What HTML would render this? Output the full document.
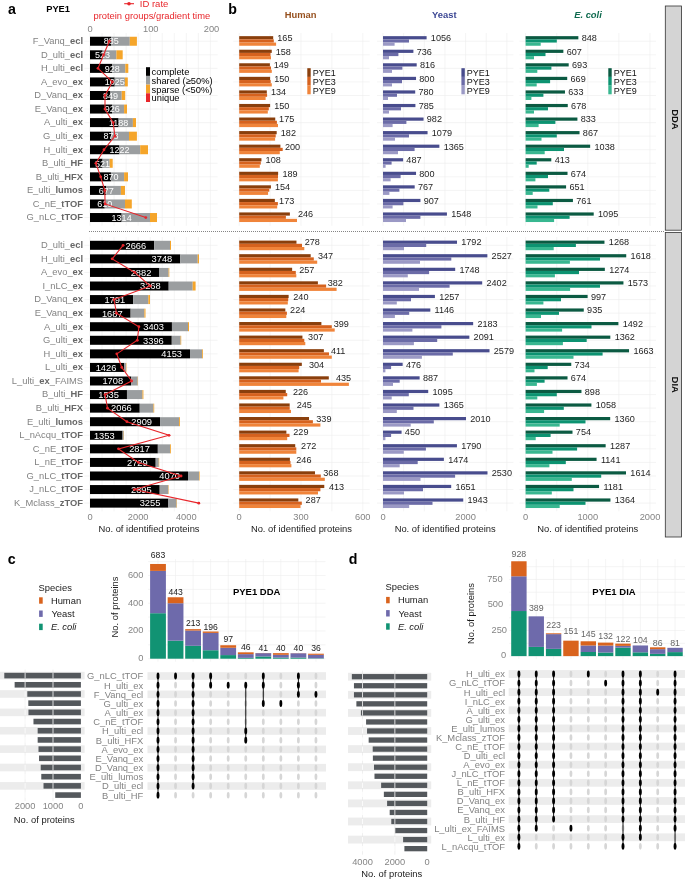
<!DOCTYPE html>
<html><head><meta charset="utf-8"><title>Figure</title>
<style>html,body{margin:0;padding:0;background:#fff;}svg{display:block;will-change:transform;}
text{font-family:"Liberation Sans", sans-serif;}</style></head>
<body>
<svg width="685" height="880" viewBox="0 0 685 880" font-family='"Liberation Sans", sans-serif'>
<rect width="685" height="880" fill="#fff"/>
<line x1="90.00" y1="33.00" x2="90.00" y2="225.80" stroke="#ececec" stroke-width="0.6" />
<line x1="102.04" y1="33.00" x2="102.04" y2="225.80" stroke="#ececec" stroke-width="0.6" />
<line x1="114.08" y1="33.00" x2="114.08" y2="225.80" stroke="#ececec" stroke-width="0.6" />
<line x1="126.12" y1="33.00" x2="126.12" y2="225.80" stroke="#ececec" stroke-width="0.6" />
<line x1="138.16" y1="33.00" x2="138.16" y2="225.80" stroke="#ececec" stroke-width="0.6" />
<line x1="150.20" y1="33.00" x2="150.20" y2="225.80" stroke="#ececec" stroke-width="0.6" />
<line x1="162.24" y1="33.00" x2="162.24" y2="225.80" stroke="#ececec" stroke-width="0.6" />
<line x1="174.28" y1="33.00" x2="174.28" y2="225.80" stroke="#ececec" stroke-width="0.6" />
<line x1="186.32" y1="33.00" x2="186.32" y2="225.80" stroke="#ececec" stroke-width="0.6" />
<line x1="198.36" y1="33.00" x2="198.36" y2="225.80" stroke="#ececec" stroke-width="0.6" />
<line x1="210.40" y1="33.00" x2="210.40" y2="225.80" stroke="#ececec" stroke-width="0.6" />
<line x1="84.40" y1="41.25" x2="217.60" y2="41.25" stroke="#ececec" stroke-width="0.6" />
<line x1="84.40" y1="54.81" x2="217.60" y2="54.81" stroke="#ececec" stroke-width="0.6" />
<line x1="84.40" y1="68.37" x2="217.60" y2="68.37" stroke="#ececec" stroke-width="0.6" />
<line x1="84.40" y1="81.93" x2="217.60" y2="81.93" stroke="#ececec" stroke-width="0.6" />
<line x1="84.40" y1="95.49" x2="217.60" y2="95.49" stroke="#ececec" stroke-width="0.6" />
<line x1="84.40" y1="109.05" x2="217.60" y2="109.05" stroke="#ececec" stroke-width="0.6" />
<line x1="84.40" y1="122.61" x2="217.60" y2="122.61" stroke="#ececec" stroke-width="0.6" />
<line x1="84.40" y1="136.17" x2="217.60" y2="136.17" stroke="#ececec" stroke-width="0.6" />
<line x1="84.40" y1="149.73" x2="217.60" y2="149.73" stroke="#ececec" stroke-width="0.6" />
<line x1="84.40" y1="163.29" x2="217.60" y2="163.29" stroke="#ececec" stroke-width="0.6" />
<line x1="84.40" y1="176.85" x2="217.60" y2="176.85" stroke="#ececec" stroke-width="0.6" />
<line x1="84.40" y1="190.41" x2="217.60" y2="190.41" stroke="#ececec" stroke-width="0.6" />
<line x1="84.40" y1="203.97" x2="217.60" y2="203.97" stroke="#ececec" stroke-width="0.6" />
<line x1="84.40" y1="217.53" x2="217.60" y2="217.53" stroke="#ececec" stroke-width="0.6" />
<line x1="90.00" y1="237.00" x2="90.00" y2="511.30" stroke="#ececec" stroke-width="0.6" />
<line x1="102.04" y1="237.00" x2="102.04" y2="511.30" stroke="#ececec" stroke-width="0.6" />
<line x1="114.08" y1="237.00" x2="114.08" y2="511.30" stroke="#ececec" stroke-width="0.6" />
<line x1="126.12" y1="237.00" x2="126.12" y2="511.30" stroke="#ececec" stroke-width="0.6" />
<line x1="138.16" y1="237.00" x2="138.16" y2="511.30" stroke="#ececec" stroke-width="0.6" />
<line x1="150.20" y1="237.00" x2="150.20" y2="511.30" stroke="#ececec" stroke-width="0.6" />
<line x1="162.24" y1="237.00" x2="162.24" y2="511.30" stroke="#ececec" stroke-width="0.6" />
<line x1="174.28" y1="237.00" x2="174.28" y2="511.30" stroke="#ececec" stroke-width="0.6" />
<line x1="186.32" y1="237.00" x2="186.32" y2="511.30" stroke="#ececec" stroke-width="0.6" />
<line x1="198.36" y1="237.00" x2="198.36" y2="511.30" stroke="#ececec" stroke-width="0.6" />
<line x1="210.40" y1="237.00" x2="210.40" y2="511.30" stroke="#ececec" stroke-width="0.6" />
<line x1="84.40" y1="245.30" x2="217.60" y2="245.30" stroke="#ececec" stroke-width="0.6" />
<line x1="84.40" y1="258.87" x2="217.60" y2="258.87" stroke="#ececec" stroke-width="0.6" />
<line x1="84.40" y1="272.44" x2="217.60" y2="272.44" stroke="#ececec" stroke-width="0.6" />
<line x1="84.40" y1="286.01" x2="217.60" y2="286.01" stroke="#ececec" stroke-width="0.6" />
<line x1="84.40" y1="299.58" x2="217.60" y2="299.58" stroke="#ececec" stroke-width="0.6" />
<line x1="84.40" y1="313.15" x2="217.60" y2="313.15" stroke="#ececec" stroke-width="0.6" />
<line x1="84.40" y1="326.72" x2="217.60" y2="326.72" stroke="#ececec" stroke-width="0.6" />
<line x1="84.40" y1="340.29" x2="217.60" y2="340.29" stroke="#ececec" stroke-width="0.6" />
<line x1="84.40" y1="353.86" x2="217.60" y2="353.86" stroke="#ececec" stroke-width="0.6" />
<line x1="84.40" y1="367.43" x2="217.60" y2="367.43" stroke="#ececec" stroke-width="0.6" />
<line x1="84.40" y1="381.00" x2="217.60" y2="381.00" stroke="#ececec" stroke-width="0.6" />
<line x1="84.40" y1="394.57" x2="217.60" y2="394.57" stroke="#ececec" stroke-width="0.6" />
<line x1="84.40" y1="408.14" x2="217.60" y2="408.14" stroke="#ececec" stroke-width="0.6" />
<line x1="84.40" y1="421.71" x2="217.60" y2="421.71" stroke="#ececec" stroke-width="0.6" />
<line x1="84.40" y1="435.28" x2="217.60" y2="435.28" stroke="#ececec" stroke-width="0.6" />
<line x1="84.40" y1="448.85" x2="217.60" y2="448.85" stroke="#ececec" stroke-width="0.6" />
<line x1="84.40" y1="462.42" x2="217.60" y2="462.42" stroke="#ececec" stroke-width="0.6" />
<line x1="84.40" y1="475.99" x2="217.60" y2="475.99" stroke="#ececec" stroke-width="0.6" />
<line x1="84.40" y1="489.56" x2="217.60" y2="489.56" stroke="#ececec" stroke-width="0.6" />
<line x1="84.40" y1="503.13" x2="217.60" y2="503.13" stroke="#ececec" stroke-width="0.6" />
<rect x="90.00" y="36.75" width="21.31" height="9.00" fill="#000" />
<rect x="111.31" y="36.75" width="18.49" height="9.00" fill="#9b9ea0" />
<rect x="129.80" y="36.75" width="7.10" height="9.00" fill="#f5a52a" />
<text x="83" y="44.05" font-size="9.35" fill="#838383" text-anchor="end">F_Vanq_<tspan font-weight="bold" fill="#676767">ecl</tspan></text>
<text x="111.31" y="44.49" font-size="9" fill="#fff" text-anchor="middle" >885</text>
<rect x="90.00" y="50.31" width="12.59" height="9.00" fill="#000" />
<rect x="102.59" y="50.31" width="13.81" height="9.00" fill="#9b9ea0" />
<rect x="116.40" y="50.31" width="6.30" height="9.00" fill="#f5a52a" />
<text x="83" y="57.61" font-size="9.35" fill="#838383" text-anchor="end">D_ulti_<tspan font-weight="bold" fill="#676767">ecl</tspan></text>
<text x="102.59" y="58.05" font-size="9" fill="#fff" text-anchor="middle" >523</text>
<rect x="90.00" y="63.87" width="22.35" height="9.00" fill="#000" />
<rect x="112.35" y="63.87" width="12.95" height="9.00" fill="#9b9ea0" />
<rect x="125.30" y="63.87" width="3.00" height="9.00" fill="#f5a52a" />
<text x="83" y="71.17" font-size="9.35" fill="#838383" text-anchor="end">H_ulti_<tspan font-weight="bold" fill="#676767">ecl</tspan></text>
<text x="112.35" y="71.61" font-size="9" fill="#fff" text-anchor="middle" >928</text>
<rect x="90.00" y="77.43" width="24.68" height="9.00" fill="#000" />
<rect x="114.68" y="77.43" width="10.22" height="9.00" fill="#9b9ea0" />
<rect x="124.90" y="77.43" width="2.90" height="9.00" fill="#f5a52a" />
<text x="83" y="84.73" font-size="9.35" fill="#838383" text-anchor="end">A_evo_<tspan font-weight="bold" fill="#676767">ex</tspan></text>
<text x="114.68" y="85.17" font-size="9" fill="#fff" text-anchor="middle" >1025</text>
<rect x="90.00" y="90.99" width="20.44" height="9.00" fill="#000" />
<rect x="110.44" y="90.99" width="11.31" height="9.00" fill="#9b9ea0" />
<rect x="121.75" y="90.99" width="3.45" height="9.00" fill="#f5a52a" />
<text x="83" y="98.29" font-size="9.35" fill="#838383" text-anchor="end">D_Vanq_<tspan font-weight="bold" fill="#676767">ex</tspan></text>
<text x="110.44" y="98.73" font-size="9" fill="#fff" text-anchor="middle" >849</text>
<rect x="90.00" y="104.55" width="22.30" height="9.00" fill="#000" />
<rect x="112.30" y="104.55" width="11.80" height="9.00" fill="#9b9ea0" />
<rect x="124.10" y="104.55" width="2.90" height="9.00" fill="#f5a52a" />
<text x="83" y="111.85" font-size="9.35" fill="#838383" text-anchor="end">E_Vanq_<tspan font-weight="bold" fill="#676767">ex</tspan></text>
<text x="112.30" y="112.29" font-size="9" fill="#fff" text-anchor="middle" >926</text>
<rect x="90.00" y="118.11" width="28.61" height="9.00" fill="#000" />
<rect x="118.61" y="118.11" width="14.29" height="9.00" fill="#9b9ea0" />
<rect x="132.90" y="118.11" width="3.10" height="9.00" fill="#f5a52a" />
<text x="83" y="125.41" font-size="9.35" fill="#838383" text-anchor="end">A_ulti_<tspan font-weight="bold" fill="#676767">ex</tspan></text>
<text x="118.61" y="125.85" font-size="9" fill="#fff" text-anchor="middle" >1188</text>
<rect x="90.00" y="131.67" width="21.14" height="9.00" fill="#000" />
<rect x="111.14" y="131.67" width="17.86" height="9.00" fill="#9b9ea0" />
<rect x="129.00" y="131.67" width="7.90" height="9.00" fill="#f5a52a" />
<text x="83" y="138.97" font-size="9.35" fill="#838383" text-anchor="end">G_ulti_<tspan font-weight="bold" fill="#676767">ex</tspan></text>
<text x="111.14" y="139.41" font-size="9" fill="#fff" text-anchor="middle" >878</text>
<rect x="90.00" y="145.23" width="29.43" height="9.00" fill="#000" />
<rect x="119.43" y="145.23" width="20.77" height="9.00" fill="#9b9ea0" />
<rect x="140.20" y="145.23" width="7.80" height="9.00" fill="#f5a52a" />
<text x="83" y="152.53" font-size="9.35" fill="#838383" text-anchor="end">H_ulti_<tspan font-weight="bold" fill="#676767">ex</tspan></text>
<text x="119.43" y="152.97" font-size="9" fill="#fff" text-anchor="middle" >1222</text>
<rect x="90.00" y="158.79" width="12.55" height="9.00" fill="#000" />
<rect x="102.55" y="158.79" width="7.15" height="9.00" fill="#9b9ea0" />
<rect x="109.70" y="158.79" width="3.00" height="9.00" fill="#f5a52a" />
<text x="83" y="166.09" font-size="9.35" fill="#838383" text-anchor="end">B_ulti_<tspan font-weight="bold" fill="#676767">HF</tspan></text>
<text x="102.55" y="166.53" font-size="9" fill="#fff" text-anchor="middle" >521</text>
<rect x="90.00" y="172.35" width="20.95" height="9.00" fill="#000" />
<rect x="110.95" y="172.35" width="13.15" height="9.00" fill="#9b9ea0" />
<rect x="124.10" y="172.35" width="3.90" height="9.00" fill="#f5a52a" />
<text x="83" y="179.65" font-size="9.35" fill="#838383" text-anchor="end">B_ulti_<tspan font-weight="bold" fill="#676767">HFX</tspan></text>
<text x="110.95" y="180.09" font-size="9" fill="#fff" text-anchor="middle" >870</text>
<rect x="90.00" y="185.91" width="16.30" height="9.00" fill="#000" />
<rect x="106.30" y="185.91" width="14.60" height="9.00" fill="#9b9ea0" />
<rect x="120.90" y="185.91" width="4.10" height="9.00" fill="#f5a52a" />
<text x="83" y="193.21" font-size="9.35" fill="#838383" text-anchor="end">E_ulti_<tspan font-weight="bold" fill="#676767">lumos</tspan></text>
<text x="106.30" y="193.65" font-size="9" fill="#fff" text-anchor="middle" >677</text>
<rect x="90.00" y="199.47" width="14.69" height="9.00" fill="#000" />
<rect x="104.69" y="199.47" width="20.31" height="9.00" fill="#9b9ea0" />
<rect x="125.00" y="199.47" width="6.80" height="9.00" fill="#f5a52a" />
<text x="83" y="206.77" font-size="9.35" fill="#838383" text-anchor="end">C_nE_<tspan font-weight="bold" fill="#676767">tTOF</tspan></text>
<text x="104.69" y="207.21" font-size="9" fill="#fff" text-anchor="middle" >610</text>
<rect x="90.00" y="213.03" width="31.64" height="9.00" fill="#000" />
<rect x="121.64" y="213.03" width="28.36" height="9.00" fill="#9b9ea0" />
<rect x="150.00" y="213.03" width="7.00" height="9.00" fill="#f5a52a" />
<text x="83" y="220.33" font-size="9.35" fill="#838383" text-anchor="end">G_nLC_<tspan font-weight="bold" fill="#676767">tTOF</tspan></text>
<text x="121.64" y="220.77" font-size="9" fill="#fff" text-anchor="middle" >1314</text>
<polyline points="109.30,41.25 103.60,54.81 98.00,68.37 112.40,81.93 105.00,95.49 105.00,109.05 113.20,122.61 114.90,136.17 104.00,149.73 95.90,163.29 100.70,176.85 104.80,190.41 105.10,203.97 145.80,217.53" fill="none" stroke="#e8262b" stroke-width="1.1"/>
<circle cx="109.30" cy="41.25" r="1.4" fill="#e8262b"/>
<circle cx="103.60" cy="54.81" r="1.4" fill="#e8262b"/>
<circle cx="98.00" cy="68.37" r="1.4" fill="#e8262b"/>
<circle cx="112.40" cy="81.93" r="1.4" fill="#e8262b"/>
<circle cx="105.00" cy="95.49" r="1.4" fill="#e8262b"/>
<circle cx="105.00" cy="109.05" r="1.4" fill="#e8262b"/>
<circle cx="113.20" cy="122.61" r="1.4" fill="#e8262b"/>
<circle cx="114.90" cy="136.17" r="1.4" fill="#e8262b"/>
<circle cx="104.00" cy="149.73" r="1.4" fill="#e8262b"/>
<circle cx="95.90" cy="163.29" r="1.4" fill="#e8262b"/>
<circle cx="100.70" cy="176.85" r="1.4" fill="#e8262b"/>
<circle cx="104.80" cy="190.41" r="1.4" fill="#e8262b"/>
<circle cx="105.10" cy="203.97" r="1.4" fill="#e8262b"/>
<circle cx="145.80" cy="217.53" r="1.4" fill="#e8262b"/>
<rect x="90.00" y="240.80" width="64.20" height="9.00" fill="#000" />
<rect x="154.20" y="240.80" width="15.80" height="9.00" fill="#9b9ea0" />
<rect x="170.00" y="240.80" width="1.00" height="9.00" fill="#f5a52a" />
<text x="83" y="248.10" font-size="9.35" fill="#838383" text-anchor="end">D_ulti_<tspan font-weight="bold" fill="#676767">ecl</tspan></text>
<text x="146.20" y="248.65" font-size="9.3" fill="#fff" text-anchor="end" >2666</text>
<rect x="90.00" y="254.37" width="90.25" height="9.00" fill="#000" />
<rect x="180.25" y="254.37" width="17.45" height="9.00" fill="#9b9ea0" />
<rect x="197.70" y="254.37" width="1.30" height="9.00" fill="#f5a52a" />
<text x="83" y="261.67" font-size="9.35" fill="#838383" text-anchor="end">H_ulti_<tspan font-weight="bold" fill="#676767">ecl</tspan></text>
<text x="172.25" y="262.22" font-size="9.3" fill="#fff" text-anchor="end" >3748</text>
<rect x="90.00" y="267.94" width="69.40" height="9.00" fill="#000" />
<rect x="159.40" y="267.94" width="9.20" height="9.00" fill="#9b9ea0" />
<rect x="168.60" y="267.94" width="0.70" height="9.00" fill="#f5a52a" />
<text x="83" y="275.24" font-size="9.35" fill="#838383" text-anchor="end">A_evo_<tspan font-weight="bold" fill="#676767">ex</tspan></text>
<text x="151.40" y="275.79" font-size="9.3" fill="#fff" text-anchor="end" >2882</text>
<rect x="90.00" y="281.51" width="78.69" height="9.00" fill="#000" />
<rect x="168.69" y="281.51" width="24.01" height="9.00" fill="#9b9ea0" />
<rect x="192.70" y="281.51" width="2.90" height="9.00" fill="#f5a52a" />
<text x="83" y="288.81" font-size="9.35" fill="#838383" text-anchor="end">I_nLC_<tspan font-weight="bold" fill="#676767">ex</tspan></text>
<text x="160.69" y="289.36" font-size="9.3" fill="#fff" text-anchor="end" >3268</text>
<rect x="90.00" y="295.08" width="43.13" height="9.00" fill="#000" />
<rect x="133.13" y="295.08" width="15.17" height="9.00" fill="#9b9ea0" />
<rect x="148.30" y="295.08" width="1.70" height="9.00" fill="#f5a52a" />
<text x="83" y="302.38" font-size="9.35" fill="#838383" text-anchor="end">D_Vanq_<tspan font-weight="bold" fill="#676767">ex</tspan></text>
<text x="125.13" y="302.93" font-size="9.3" fill="#fff" text-anchor="end" >1791</text>
<rect x="90.00" y="308.65" width="40.62" height="9.00" fill="#000" />
<rect x="130.62" y="308.65" width="13.78" height="9.00" fill="#9b9ea0" />
<rect x="144.40" y="308.65" width="1.10" height="9.00" fill="#f5a52a" />
<text x="83" y="315.95" font-size="9.35" fill="#838383" text-anchor="end">E_Vanq_<tspan font-weight="bold" fill="#676767">ex</tspan></text>
<text x="122.62" y="316.50" font-size="9.3" fill="#fff" text-anchor="end" >1687</text>
<rect x="90.00" y="322.22" width="81.94" height="9.00" fill="#000" />
<rect x="171.94" y="322.22" width="16.06" height="9.00" fill="#9b9ea0" />
<rect x="188.00" y="322.22" width="1.00" height="9.00" fill="#f5a52a" />
<text x="83" y="329.52" font-size="9.35" fill="#838383" text-anchor="end">A_ulti_<tspan font-weight="bold" fill="#676767">ex</tspan></text>
<text x="163.94" y="330.07" font-size="9.3" fill="#fff" text-anchor="end" >3403</text>
<rect x="90.00" y="335.79" width="81.78" height="9.00" fill="#000" />
<rect x="171.78" y="335.79" width="8.82" height="9.00" fill="#9b9ea0" />
<rect x="180.60" y="335.79" width="0.60" height="9.00" fill="#f5a52a" />
<text x="83" y="343.09" font-size="9.35" fill="#838383" text-anchor="end">G_ulti_<tspan font-weight="bold" fill="#676767">ex</tspan></text>
<text x="163.78" y="343.64" font-size="9.3" fill="#fff" text-anchor="end" >3396</text>
<rect x="90.00" y="349.36" width="100.00" height="9.00" fill="#000" />
<rect x="190.00" y="349.36" width="12.20" height="9.00" fill="#9b9ea0" />
<rect x="202.20" y="349.36" width="0.80" height="9.00" fill="#f5a52a" />
<text x="83" y="356.66" font-size="9.35" fill="#838383" text-anchor="end">H_ulti_<tspan font-weight="bold" fill="#676767">ex</tspan></text>
<text x="182.00" y="357.21" font-size="9.3" fill="#fff" text-anchor="end" >4153</text>
<rect x="90.00" y="362.93" width="34.34" height="9.00" fill="#000" />
<rect x="124.34" y="362.93" width="1.66" height="9.00" fill="#9b9ea0" />
<rect x="126.00" y="362.93" width="0.40" height="9.00" fill="#f5a52a" />
<text x="83" y="370.23" font-size="9.35" fill="#838383" text-anchor="end">L_ulti_<tspan font-weight="bold" fill="#676767">ex</tspan></text>
<text x="116.34" y="370.78" font-size="9.3" fill="#fff" text-anchor="end" >1426</text>
<rect x="90.00" y="376.50" width="41.13" height="9.00" fill="#000" />
<rect x="131.13" y="376.50" width="6.57" height="9.00" fill="#9b9ea0" />
<rect x="137.70" y="376.50" width="0.30" height="9.00" fill="#f5a52a" />
<text x="83" y="383.80" font-size="9.35" fill="#838383" text-anchor="end">L_ulti_<tspan font-weight="bold" fill="#676767">ex</tspan>_FAIMS</text>
<text x="123.13" y="384.35" font-size="9.3" fill="#fff" text-anchor="end" >1708</text>
<rect x="90.00" y="390.07" width="36.96" height="9.00" fill="#000" />
<rect x="126.96" y="390.07" width="15.54" height="9.00" fill="#9b9ea0" />
<rect x="142.50" y="390.07" width="0.90" height="9.00" fill="#f5a52a" />
<text x="83" y="397.37" font-size="9.35" fill="#838383" text-anchor="end">B_ulti_<tspan font-weight="bold" fill="#676767">HF</tspan></text>
<text x="118.96" y="397.92" font-size="9.3" fill="#fff" text-anchor="end" >1535</text>
<rect x="90.00" y="403.64" width="49.75" height="9.00" fill="#000" />
<rect x="139.75" y="403.64" width="13.75" height="9.00" fill="#9b9ea0" />
<rect x="153.50" y="403.64" width="0.70" height="9.00" fill="#f5a52a" />
<text x="83" y="410.94" font-size="9.35" fill="#838383" text-anchor="end">B_ulti_<tspan font-weight="bold" fill="#676767">HFX</tspan></text>
<text x="131.75" y="411.49" font-size="9.3" fill="#fff" text-anchor="end" >2066</text>
<rect x="90.00" y="417.21" width="70.05" height="9.00" fill="#000" />
<rect x="160.05" y="417.21" width="19.05" height="9.00" fill="#9b9ea0" />
<rect x="179.10" y="417.21" width="0.90" height="9.00" fill="#f5a52a" />
<text x="83" y="424.51" font-size="9.35" fill="#838383" text-anchor="end">E_ulti_<tspan font-weight="bold" fill="#676767">lumos</tspan></text>
<text x="152.05" y="425.06" font-size="9.3" fill="#fff" text-anchor="end" >2909</text>
<rect x="90.00" y="430.78" width="32.58" height="9.00" fill="#000" />
<rect x="122.58" y="430.78" width="1.12" height="9.00" fill="#9b9ea0" />
<rect x="123.70" y="430.78" width="0.30" height="9.00" fill="#f5a52a" />
<text x="83" y="438.08" font-size="9.35" fill="#838383" text-anchor="end">L_nAcqu_<tspan font-weight="bold" fill="#676767">tTOF</tspan></text>
<text x="114.58" y="438.63" font-size="9.3" fill="#fff" text-anchor="end" >1353</text>
<rect x="90.00" y="444.35" width="67.83" height="9.00" fill="#000" />
<rect x="157.83" y="444.35" width="12.37" height="9.00" fill="#9b9ea0" />
<rect x="170.20" y="444.35" width="0.80" height="9.00" fill="#f5a52a" />
<text x="83" y="451.65" font-size="9.35" fill="#838383" text-anchor="end">C_nE_<tspan font-weight="bold" fill="#676767">tTOF</tspan></text>
<text x="149.83" y="452.20" font-size="9.3" fill="#fff" text-anchor="end" >2817</text>
<rect x="90.00" y="457.92" width="65.71" height="9.00" fill="#000" />
<rect x="155.71" y="457.92" width="3.09" height="9.00" fill="#9b9ea0" />
<rect x="158.80" y="457.92" width="0.40" height="9.00" fill="#f5a52a" />
<text x="83" y="465.22" font-size="9.35" fill="#838383" text-anchor="end">L_nE_<tspan font-weight="bold" fill="#676767">tTOF</tspan></text>
<text x="147.71" y="465.77" font-size="9.3" fill="#fff" text-anchor="end" >2729</text>
<rect x="90.00" y="471.49" width="98.01" height="9.00" fill="#000" />
<rect x="188.01" y="471.49" width="10.99" height="9.00" fill="#9b9ea0" />
<rect x="199.00" y="471.49" width="0.60" height="9.00" fill="#f5a52a" />
<text x="83" y="478.79" font-size="9.35" fill="#838383" text-anchor="end">G_nLC_<tspan font-weight="bold" fill="#676767">tTOF</tspan></text>
<text x="180.01" y="479.34" font-size="9.3" fill="#fff" text-anchor="end" >4070</text>
<rect x="90.00" y="485.06" width="69.71" height="9.00" fill="#000" />
<rect x="159.71" y="485.06" width="8.59" height="9.00" fill="#9b9ea0" />
<rect x="168.30" y="485.06" width="0.40" height="9.00" fill="#f5a52a" />
<text x="83" y="492.36" font-size="9.35" fill="#838383" text-anchor="end">J_nLC_<tspan font-weight="bold" fill="#676767">tTOF</tspan></text>
<text x="151.71" y="492.91" font-size="9.3" fill="#fff" text-anchor="end" >2895</text>
<rect x="90.00" y="498.63" width="78.38" height="9.00" fill="#000" />
<rect x="168.38" y="498.63" width="8.22" height="9.00" fill="#9b9ea0" />
<rect x="176.60" y="498.63" width="0.40" height="9.00" fill="#f5a52a" />
<text x="83" y="505.93" font-size="9.35" fill="#838383" text-anchor="end">K_Mclass_<tspan font-weight="bold" fill="#676767">zTOF</tspan></text>
<text x="160.38" y="506.48" font-size="9.3" fill="#fff" text-anchor="end" >3255</text>
<polyline points="123.10,245.30 112.20,258.87 134.80,272.44 150.20,286.01 114.00,299.58 116.50,313.15 138.90,326.72 137.30,340.29 116.80,353.86 121.80,367.43 131.60,381.00 105.10,394.57 107.50,408.14 126.90,421.71 169.00,435.28 118.50,448.85 138.40,462.42 181.00,475.99 134.30,489.56 198.80,503.13" fill="none" stroke="#e8262b" stroke-width="1.1"/>
<circle cx="123.10" cy="245.30" r="1.4" fill="#e8262b"/>
<circle cx="112.20" cy="258.87" r="1.4" fill="#e8262b"/>
<circle cx="134.80" cy="272.44" r="1.4" fill="#e8262b"/>
<circle cx="150.20" cy="286.01" r="1.4" fill="#e8262b"/>
<circle cx="114.00" cy="299.58" r="1.4" fill="#e8262b"/>
<circle cx="116.50" cy="313.15" r="1.4" fill="#e8262b"/>
<circle cx="138.90" cy="326.72" r="1.4" fill="#e8262b"/>
<circle cx="137.30" cy="340.29" r="1.4" fill="#e8262b"/>
<circle cx="116.80" cy="353.86" r="1.4" fill="#e8262b"/>
<circle cx="121.80" cy="367.43" r="1.4" fill="#e8262b"/>
<circle cx="131.60" cy="381.00" r="1.4" fill="#e8262b"/>
<circle cx="105.10" cy="394.57" r="1.4" fill="#e8262b"/>
<circle cx="107.50" cy="408.14" r="1.4" fill="#e8262b"/>
<circle cx="126.90" cy="421.71" r="1.4" fill="#e8262b"/>
<circle cx="169.00" cy="435.28" r="1.4" fill="#e8262b"/>
<circle cx="118.50" cy="448.85" r="1.4" fill="#e8262b"/>
<circle cx="138.40" cy="462.42" r="1.4" fill="#e8262b"/>
<circle cx="181.00" cy="475.99" r="1.4" fill="#e8262b"/>
<circle cx="134.30" cy="489.56" r="1.4" fill="#e8262b"/>
<circle cx="198.80" cy="503.13" r="1.4" fill="#e8262b"/>
<rect x="146.00" y="67.20" width="4.00" height="8.70" fill="#000" />
<rect x="146.00" y="75.90" width="4.00" height="8.70" fill="#9b9ea0" />
<rect x="146.00" y="84.60" width="4.00" height="8.70" fill="#f5a52a" />
<rect x="146.00" y="93.30" width="4.00" height="8.70" fill="#e8262b" />
<text x="151.60" y="74.95" font-size="9.3" fill="#000" >complete</text>
<text x="151.60" y="83.75" font-size="9.3" fill="#000" >shared (≥50%)</text>
<text x="151.60" y="92.55" font-size="9.3" fill="#000" >sparse (&lt;50%)</text>
<text x="151.60" y="101.35" font-size="9.3" fill="#000" >unique</text>
<text x="90.10" y="31.95" font-size="9.3" fill="#858585" text-anchor="middle" >0</text>
<text x="150.80" y="31.95" font-size="9.3" fill="#858585" text-anchor="middle" >100</text>
<text x="211.50" y="31.95" font-size="9.3" fill="#858585" text-anchor="middle" >200</text>
<line x1="124.20" y1="3.70" x2="134.00" y2="3.70" stroke="#e8262b" stroke-width="1.1" />
<circle cx="129" cy="3.7" r="1.8" fill="#e8262b"/>
<text x="139.80" y="7.22" font-size="9.5" fill="#e8262b" >ID rate</text>
<text x="151.80" y="18.78" font-size="9.4" fill="#e8262b" text-anchor="middle" >protein groups/gradient time</text>
<text x="90.00" y="519.55" font-size="9.3" fill="#858585" text-anchor="middle" >0</text>
<text x="138.20" y="519.55" font-size="9.3" fill="#858585" text-anchor="middle" >2000</text>
<text x="186.30" y="519.55" font-size="9.3" fill="#858585" text-anchor="middle" >4000</text>
<text x="149.00" y="531.88" font-size="9.4" fill="#1a1a1a" text-anchor="middle" >No. of identified proteins</text>
<text x="8.00" y="14.11" font-size="14.2" fill="#000" font-weight="bold" >a</text>
<text x="46.20" y="11.75" font-size="9.3" fill="#000" font-weight="bold" >PYE1</text>
<line x1="239.20" y1="33.00" x2="239.20" y2="225.80" stroke="#ececec" stroke-width="0.6" />
<line x1="270.10" y1="33.00" x2="270.10" y2="225.80" stroke="#ececec" stroke-width="0.6" />
<line x1="301.00" y1="33.00" x2="301.00" y2="225.80" stroke="#ececec" stroke-width="0.6" />
<line x1="331.90" y1="33.00" x2="331.90" y2="225.80" stroke="#ececec" stroke-width="0.6" />
<line x1="362.80" y1="33.00" x2="362.80" y2="225.80" stroke="#ececec" stroke-width="0.6" />
<line x1="233.30" y1="41.25" x2="369.60" y2="41.25" stroke="#ececec" stroke-width="0.6" />
<line x1="233.30" y1="54.81" x2="369.60" y2="54.81" stroke="#ececec" stroke-width="0.6" />
<line x1="233.30" y1="68.37" x2="369.60" y2="68.37" stroke="#ececec" stroke-width="0.6" />
<line x1="233.30" y1="81.93" x2="369.60" y2="81.93" stroke="#ececec" stroke-width="0.6" />
<line x1="233.30" y1="95.49" x2="369.60" y2="95.49" stroke="#ececec" stroke-width="0.6" />
<line x1="233.30" y1="109.05" x2="369.60" y2="109.05" stroke="#ececec" stroke-width="0.6" />
<line x1="233.30" y1="122.61" x2="369.60" y2="122.61" stroke="#ececec" stroke-width="0.6" />
<line x1="233.30" y1="136.17" x2="369.60" y2="136.17" stroke="#ececec" stroke-width="0.6" />
<line x1="233.30" y1="149.73" x2="369.60" y2="149.73" stroke="#ececec" stroke-width="0.6" />
<line x1="233.30" y1="163.29" x2="369.60" y2="163.29" stroke="#ececec" stroke-width="0.6" />
<line x1="233.30" y1="176.85" x2="369.60" y2="176.85" stroke="#ececec" stroke-width="0.6" />
<line x1="233.30" y1="190.41" x2="369.60" y2="190.41" stroke="#ececec" stroke-width="0.6" />
<line x1="233.30" y1="203.97" x2="369.60" y2="203.97" stroke="#ececec" stroke-width="0.6" />
<line x1="233.30" y1="217.53" x2="369.60" y2="217.53" stroke="#ececec" stroke-width="0.6" />
<line x1="239.20" y1="237.00" x2="239.20" y2="511.30" stroke="#ececec" stroke-width="0.6" />
<line x1="270.10" y1="237.00" x2="270.10" y2="511.30" stroke="#ececec" stroke-width="0.6" />
<line x1="301.00" y1="237.00" x2="301.00" y2="511.30" stroke="#ececec" stroke-width="0.6" />
<line x1="331.90" y1="237.00" x2="331.90" y2="511.30" stroke="#ececec" stroke-width="0.6" />
<line x1="362.80" y1="237.00" x2="362.80" y2="511.30" stroke="#ececec" stroke-width="0.6" />
<line x1="233.30" y1="245.30" x2="369.60" y2="245.30" stroke="#ececec" stroke-width="0.6" />
<line x1="233.30" y1="258.87" x2="369.60" y2="258.87" stroke="#ececec" stroke-width="0.6" />
<line x1="233.30" y1="272.44" x2="369.60" y2="272.44" stroke="#ececec" stroke-width="0.6" />
<line x1="233.30" y1="286.01" x2="369.60" y2="286.01" stroke="#ececec" stroke-width="0.6" />
<line x1="233.30" y1="299.58" x2="369.60" y2="299.58" stroke="#ececec" stroke-width="0.6" />
<line x1="233.30" y1="313.15" x2="369.60" y2="313.15" stroke="#ececec" stroke-width="0.6" />
<line x1="233.30" y1="326.72" x2="369.60" y2="326.72" stroke="#ececec" stroke-width="0.6" />
<line x1="233.30" y1="340.29" x2="369.60" y2="340.29" stroke="#ececec" stroke-width="0.6" />
<line x1="233.30" y1="353.86" x2="369.60" y2="353.86" stroke="#ececec" stroke-width="0.6" />
<line x1="233.30" y1="367.43" x2="369.60" y2="367.43" stroke="#ececec" stroke-width="0.6" />
<line x1="233.30" y1="381.00" x2="369.60" y2="381.00" stroke="#ececec" stroke-width="0.6" />
<line x1="233.30" y1="394.57" x2="369.60" y2="394.57" stroke="#ececec" stroke-width="0.6" />
<line x1="233.30" y1="408.14" x2="369.60" y2="408.14" stroke="#ececec" stroke-width="0.6" />
<line x1="233.30" y1="421.71" x2="369.60" y2="421.71" stroke="#ececec" stroke-width="0.6" />
<line x1="233.30" y1="435.28" x2="369.60" y2="435.28" stroke="#ececec" stroke-width="0.6" />
<line x1="233.30" y1="448.85" x2="369.60" y2="448.85" stroke="#ececec" stroke-width="0.6" />
<line x1="233.30" y1="462.42" x2="369.60" y2="462.42" stroke="#ececec" stroke-width="0.6" />
<line x1="233.30" y1="475.99" x2="369.60" y2="475.99" stroke="#ececec" stroke-width="0.6" />
<line x1="233.30" y1="489.56" x2="369.60" y2="489.56" stroke="#ececec" stroke-width="0.6" />
<line x1="233.30" y1="503.13" x2="369.60" y2="503.13" stroke="#ececec" stroke-width="0.6" />
<rect x="239.20" y="36.15" width="33.99" height="3.20" fill="#8a3f0c" />
<rect x="239.20" y="39.35" width="34.60" height="3.20" fill="#d6621e" />
<rect x="239.20" y="42.55" width="36.90" height="3.20" fill="#f0843a" />
<text x="277.30" y="41.03" font-size="9.1" fill="#1e1e1e" >165</text>
<rect x="239.20" y="49.71" width="32.55" height="3.20" fill="#8a3f0c" />
<rect x="239.20" y="52.91" width="31.30" height="3.20" fill="#d6621e" />
<rect x="239.20" y="56.11" width="31.80" height="3.20" fill="#f0843a" />
<text x="275.70" y="54.59" font-size="9.1" fill="#1e1e1e" >158</text>
<rect x="239.20" y="63.27" width="30.69" height="3.20" fill="#8a3f0c" />
<rect x="239.20" y="66.47" width="31.80" height="3.20" fill="#d6621e" />
<rect x="239.20" y="69.67" width="32.60" height="3.20" fill="#f0843a" />
<text x="273.70" y="68.15" font-size="9.1" fill="#1e1e1e" >149</text>
<rect x="239.20" y="76.83" width="30.90" height="3.20" fill="#8a3f0c" />
<rect x="239.20" y="80.03" width="31.50" height="3.20" fill="#d6621e" />
<rect x="239.20" y="83.23" width="32.60" height="3.20" fill="#f0843a" />
<text x="274.20" y="81.71" font-size="9.1" fill="#1e1e1e" >150</text>
<rect x="239.20" y="90.39" width="27.60" height="3.20" fill="#8a3f0c" />
<rect x="239.20" y="93.59" width="27.90" height="3.20" fill="#d6621e" />
<rect x="239.20" y="96.79" width="26.40" height="3.20" fill="#f0843a" />
<text x="271.00" y="95.27" font-size="9.1" fill="#1e1e1e" >134</text>
<rect x="239.20" y="103.95" width="30.90" height="3.20" fill="#8a3f0c" />
<rect x="239.20" y="107.15" width="29.60" height="3.20" fill="#d6621e" />
<rect x="239.20" y="110.35" width="28.60" height="3.20" fill="#f0843a" />
<text x="274.20" y="108.83" font-size="9.1" fill="#1e1e1e" >150</text>
<rect x="239.20" y="117.51" width="36.05" height="3.20" fill="#8a3f0c" />
<rect x="239.20" y="120.71" width="37.70" height="3.20" fill="#d6621e" />
<rect x="239.20" y="123.91" width="38.80" height="3.20" fill="#f0843a" />
<text x="279.10" y="122.39" font-size="9.1" fill="#1e1e1e" >175</text>
<rect x="239.20" y="131.07" width="37.49" height="3.20" fill="#8a3f0c" />
<rect x="239.20" y="134.27" width="36.50" height="3.20" fill="#d6621e" />
<rect x="239.20" y="137.47" width="35.90" height="3.20" fill="#f0843a" />
<text x="280.80" y="135.95" font-size="9.1" fill="#1e1e1e" >182</text>
<rect x="239.20" y="144.63" width="41.20" height="3.20" fill="#8a3f0c" />
<rect x="239.20" y="147.83" width="43.50" height="3.20" fill="#d6621e" />
<rect x="239.20" y="151.03" width="40.60" height="3.20" fill="#f0843a" />
<text x="284.90" y="149.51" font-size="9.1" fill="#1e1e1e" >200</text>
<rect x="239.20" y="158.19" width="22.25" height="3.20" fill="#8a3f0c" />
<rect x="239.20" y="161.39" width="21.60" height="3.20" fill="#d6621e" />
<rect x="239.20" y="164.59" width="20.60" height="3.20" fill="#f0843a" />
<text x="265.60" y="163.07" font-size="9.1" fill="#1e1e1e" >108</text>
<rect x="239.20" y="171.75" width="38.93" height="3.20" fill="#8a3f0c" />
<rect x="239.20" y="174.95" width="38.80" height="3.20" fill="#d6621e" />
<rect x="239.20" y="178.15" width="38.70" height="3.20" fill="#f0843a" />
<text x="282.40" y="176.63" font-size="9.1" fill="#1e1e1e" >189</text>
<rect x="239.20" y="185.31" width="31.72" height="3.20" fill="#8a3f0c" />
<rect x="239.20" y="188.51" width="30.10" height="3.20" fill="#d6621e" />
<rect x="239.20" y="191.71" width="28.90" height="3.20" fill="#f0843a" />
<text x="275.00" y="190.19" font-size="9.1" fill="#1e1e1e" >154</text>
<rect x="239.20" y="198.87" width="35.64" height="3.20" fill="#8a3f0c" />
<rect x="239.20" y="202.07" width="38.70" height="3.20" fill="#d6621e" />
<rect x="239.20" y="205.27" width="38.00" height="3.20" fill="#f0843a" />
<text x="279.10" y="203.75" font-size="9.1" fill="#1e1e1e" >173</text>
<rect x="239.20" y="212.43" width="50.68" height="3.20" fill="#8a3f0c" />
<rect x="239.20" y="215.63" width="46.70" height="3.20" fill="#d6621e" />
<rect x="239.20" y="218.83" width="57.80" height="3.20" fill="#f0843a" />
<text x="298.00" y="217.31" font-size="9.1" fill="#1e1e1e" >246</text>
<rect x="239.20" y="240.60" width="57.27" height="3.20" fill="#8a3f0c" />
<rect x="239.20" y="243.80" width="62.80" height="3.20" fill="#d6621e" />
<rect x="239.20" y="247.00" width="65.10" height="3.20" fill="#f0843a" />
<text x="304.70" y="245.48" font-size="9.1" fill="#1e1e1e" >278</text>
<rect x="239.20" y="254.17" width="71.48" height="3.20" fill="#8a3f0c" />
<rect x="239.20" y="257.37" width="74.60" height="3.20" fill="#d6621e" />
<rect x="239.20" y="260.57" width="78.00" height="3.20" fill="#f0843a" />
<text x="318.00" y="259.05" font-size="9.1" fill="#1e1e1e" >347</text>
<rect x="239.20" y="267.74" width="52.94" height="3.20" fill="#8a3f0c" />
<rect x="239.20" y="270.94" width="56.60" height="3.20" fill="#d6621e" />
<rect x="239.20" y="274.14" width="57.10" height="3.20" fill="#f0843a" />
<text x="299.20" y="272.62" font-size="9.1" fill="#1e1e1e" >257</text>
<rect x="239.20" y="281.31" width="78.69" height="3.20" fill="#8a3f0c" />
<rect x="239.20" y="284.51" width="86.90" height="3.20" fill="#d6621e" />
<rect x="239.20" y="287.71" width="97.40" height="3.20" fill="#f0843a" />
<text x="327.70" y="286.19" font-size="9.1" fill="#1e1e1e" >382</text>
<rect x="239.20" y="294.88" width="49.44" height="3.20" fill="#8a3f0c" />
<rect x="239.20" y="298.08" width="49.00" height="3.20" fill="#d6621e" />
<rect x="239.20" y="301.28" width="48.60" height="3.20" fill="#f0843a" />
<text x="293.30" y="299.76" font-size="9.1" fill="#1e1e1e" >240</text>
<rect x="239.20" y="308.45" width="46.14" height="3.20" fill="#8a3f0c" />
<rect x="239.20" y="311.65" width="47.70" height="3.20" fill="#d6621e" />
<rect x="239.20" y="314.85" width="47.10" height="3.20" fill="#f0843a" />
<text x="290.10" y="313.33" font-size="9.1" fill="#1e1e1e" >224</text>
<rect x="239.20" y="322.02" width="82.19" height="3.20" fill="#8a3f0c" />
<rect x="239.20" y="325.22" width="92.60" height="3.20" fill="#d6621e" />
<rect x="239.20" y="328.42" width="95.50" height="3.20" fill="#f0843a" />
<text x="333.70" y="326.90" font-size="9.1" fill="#1e1e1e" >399</text>
<rect x="239.20" y="335.59" width="63.24" height="3.20" fill="#8a3f0c" />
<rect x="239.20" y="338.79" width="65.10" height="3.20" fill="#d6621e" />
<rect x="239.20" y="341.99" width="66.10" height="3.20" fill="#f0843a" />
<text x="308.10" y="340.47" font-size="9.1" fill="#1e1e1e" >307</text>
<rect x="239.20" y="349.16" width="84.67" height="3.20" fill="#8a3f0c" />
<rect x="239.20" y="352.36" width="89.80" height="3.20" fill="#d6621e" />
<rect x="239.20" y="355.56" width="92.60" height="3.20" fill="#f0843a" />
<text x="330.90" y="354.04" font-size="9.1" fill="#1e1e1e" >411</text>
<rect x="239.20" y="362.73" width="62.62" height="3.20" fill="#8a3f0c" />
<rect x="239.20" y="365.93" width="60.00" height="3.20" fill="#d6621e" />
<rect x="239.20" y="369.13" width="59.40" height="3.20" fill="#f0843a" />
<text x="309.00" y="367.61" font-size="9.1" fill="#1e1e1e" >304</text>
<rect x="239.20" y="376.30" width="89.61" height="3.20" fill="#8a3f0c" />
<rect x="239.20" y="379.50" width="81.80" height="3.20" fill="#d6621e" />
<rect x="239.20" y="382.70" width="109.70" height="3.20" fill="#f0843a" />
<text x="336.00" y="381.18" font-size="9.1" fill="#1e1e1e" >435</text>
<rect x="239.20" y="389.87" width="46.56" height="3.20" fill="#8a3f0c" />
<rect x="239.20" y="393.07" width="48.00" height="3.20" fill="#d6621e" />
<rect x="239.20" y="396.27" width="44.20" height="3.20" fill="#f0843a" />
<text x="293.00" y="394.75" font-size="9.1" fill="#1e1e1e" >226</text>
<rect x="239.20" y="403.44" width="50.47" height="3.20" fill="#8a3f0c" />
<rect x="239.20" y="406.64" width="50.50" height="3.20" fill="#d6621e" />
<rect x="239.20" y="409.84" width="51.80" height="3.20" fill="#f0843a" />
<text x="296.70" y="408.32" font-size="9.1" fill="#1e1e1e" >245</text>
<rect x="239.20" y="417.01" width="69.83" height="3.20" fill="#8a3f0c" />
<rect x="239.20" y="420.21" width="73.70" height="3.20" fill="#d6621e" />
<rect x="239.20" y="423.41" width="81.20" height="3.20" fill="#f0843a" />
<text x="316.30" y="421.89" font-size="9.1" fill="#1e1e1e" >339</text>
<rect x="239.20" y="430.58" width="47.17" height="3.20" fill="#8a3f0c" />
<rect x="239.20" y="433.78" width="50.30" height="3.20" fill="#d6621e" />
<rect x="239.20" y="436.98" width="48.00" height="3.20" fill="#f0843a" />
<text x="293.30" y="435.46" font-size="9.1" fill="#1e1e1e" >229</text>
<rect x="239.20" y="444.15" width="56.03" height="3.20" fill="#8a3f0c" />
<rect x="239.20" y="447.35" width="57.10" height="3.20" fill="#d6621e" />
<rect x="239.20" y="450.55" width="57.10" height="3.20" fill="#f0843a" />
<text x="301.10" y="449.03" font-size="9.1" fill="#1e1e1e" >272</text>
<rect x="239.20" y="457.72" width="50.68" height="3.20" fill="#8a3f0c" />
<rect x="239.20" y="460.92" width="51.30" height="3.20" fill="#d6621e" />
<rect x="239.20" y="464.12" width="52.20" height="3.20" fill="#f0843a" />
<text x="296.30" y="462.60" font-size="9.1" fill="#1e1e1e" >246</text>
<rect x="239.20" y="471.29" width="75.81" height="3.20" fill="#8a3f0c" />
<rect x="239.20" y="474.49" width="81.60" height="3.20" fill="#d6621e" />
<rect x="239.20" y="477.69" width="85.60" height="3.20" fill="#f0843a" />
<text x="323.30" y="476.17" font-size="9.1" fill="#1e1e1e" >368</text>
<rect x="239.20" y="484.86" width="85.08" height="3.20" fill="#8a3f0c" />
<rect x="239.20" y="488.06" width="81.20" height="3.20" fill="#d6621e" />
<rect x="239.20" y="491.26" width="78.80" height="3.20" fill="#f0843a" />
<text x="329.00" y="489.74" font-size="9.1" fill="#1e1e1e" >413</text>
<rect x="239.20" y="498.43" width="59.12" height="3.20" fill="#8a3f0c" />
<rect x="239.20" y="501.63" width="62.60" height="3.20" fill="#d6621e" />
<rect x="239.20" y="504.83" width="61.30" height="3.20" fill="#f0843a" />
<text x="305.60" y="503.31" font-size="9.1" fill="#1e1e1e" >287</text>
<text x="239.20" y="519.55" font-size="9.3" fill="#858585" text-anchor="middle" >0</text>
<text x="301.00" y="519.55" font-size="9.3" fill="#858585" text-anchor="middle" >300</text>
<text x="362.80" y="519.55" font-size="9.3" fill="#858585" text-anchor="middle" >600</text>
<text x="300.60" y="18.08" font-size="9.4" fill="#96501e" text-anchor="middle" font-weight="bold" >Human</text>
<text x="301.45" y="531.88" font-size="9.4" fill="#1a1a1a" text-anchor="middle" >No. of identified proteins</text>
<rect x="307.30" y="68.20" width="3.40" height="8.70" fill="#8a3f0c" />
<rect x="307.30" y="76.90" width="3.40" height="8.70" fill="#d6621e" />
<rect x="307.30" y="85.60" width="3.40" height="8.70" fill="#f0843a" />
<text x="312.70" y="75.64" font-size="9" fill="#111" >PYE1</text>
<text x="312.70" y="84.64" font-size="9" fill="#111" >PYE3</text>
<text x="312.70" y="93.64" font-size="9" fill="#111" >PYE9</text>
<line x1="383.00" y1="33.00" x2="383.00" y2="225.80" stroke="#ececec" stroke-width="0.6" />
<line x1="403.65" y1="33.00" x2="403.65" y2="225.80" stroke="#ececec" stroke-width="0.6" />
<line x1="424.30" y1="33.00" x2="424.30" y2="225.80" stroke="#ececec" stroke-width="0.6" />
<line x1="444.95" y1="33.00" x2="444.95" y2="225.80" stroke="#ececec" stroke-width="0.6" />
<line x1="465.60" y1="33.00" x2="465.60" y2="225.80" stroke="#ececec" stroke-width="0.6" />
<line x1="486.25" y1="33.00" x2="486.25" y2="225.80" stroke="#ececec" stroke-width="0.6" />
<line x1="506.90" y1="33.00" x2="506.90" y2="225.80" stroke="#ececec" stroke-width="0.6" />
<line x1="377.00" y1="41.25" x2="513.40" y2="41.25" stroke="#ececec" stroke-width="0.6" />
<line x1="377.00" y1="54.81" x2="513.40" y2="54.81" stroke="#ececec" stroke-width="0.6" />
<line x1="377.00" y1="68.37" x2="513.40" y2="68.37" stroke="#ececec" stroke-width="0.6" />
<line x1="377.00" y1="81.93" x2="513.40" y2="81.93" stroke="#ececec" stroke-width="0.6" />
<line x1="377.00" y1="95.49" x2="513.40" y2="95.49" stroke="#ececec" stroke-width="0.6" />
<line x1="377.00" y1="109.05" x2="513.40" y2="109.05" stroke="#ececec" stroke-width="0.6" />
<line x1="377.00" y1="122.61" x2="513.40" y2="122.61" stroke="#ececec" stroke-width="0.6" />
<line x1="377.00" y1="136.17" x2="513.40" y2="136.17" stroke="#ececec" stroke-width="0.6" />
<line x1="377.00" y1="149.73" x2="513.40" y2="149.73" stroke="#ececec" stroke-width="0.6" />
<line x1="377.00" y1="163.29" x2="513.40" y2="163.29" stroke="#ececec" stroke-width="0.6" />
<line x1="377.00" y1="176.85" x2="513.40" y2="176.85" stroke="#ececec" stroke-width="0.6" />
<line x1="377.00" y1="190.41" x2="513.40" y2="190.41" stroke="#ececec" stroke-width="0.6" />
<line x1="377.00" y1="203.97" x2="513.40" y2="203.97" stroke="#ececec" stroke-width="0.6" />
<line x1="377.00" y1="217.53" x2="513.40" y2="217.53" stroke="#ececec" stroke-width="0.6" />
<line x1="383.00" y1="237.00" x2="383.00" y2="511.30" stroke="#ececec" stroke-width="0.6" />
<line x1="403.65" y1="237.00" x2="403.65" y2="511.30" stroke="#ececec" stroke-width="0.6" />
<line x1="424.30" y1="237.00" x2="424.30" y2="511.30" stroke="#ececec" stroke-width="0.6" />
<line x1="444.95" y1="237.00" x2="444.95" y2="511.30" stroke="#ececec" stroke-width="0.6" />
<line x1="465.60" y1="237.00" x2="465.60" y2="511.30" stroke="#ececec" stroke-width="0.6" />
<line x1="486.25" y1="237.00" x2="486.25" y2="511.30" stroke="#ececec" stroke-width="0.6" />
<line x1="506.90" y1="237.00" x2="506.90" y2="511.30" stroke="#ececec" stroke-width="0.6" />
<line x1="377.00" y1="245.30" x2="513.40" y2="245.30" stroke="#ececec" stroke-width="0.6" />
<line x1="377.00" y1="258.87" x2="513.40" y2="258.87" stroke="#ececec" stroke-width="0.6" />
<line x1="377.00" y1="272.44" x2="513.40" y2="272.44" stroke="#ececec" stroke-width="0.6" />
<line x1="377.00" y1="286.01" x2="513.40" y2="286.01" stroke="#ececec" stroke-width="0.6" />
<line x1="377.00" y1="299.58" x2="513.40" y2="299.58" stroke="#ececec" stroke-width="0.6" />
<line x1="377.00" y1="313.15" x2="513.40" y2="313.15" stroke="#ececec" stroke-width="0.6" />
<line x1="377.00" y1="326.72" x2="513.40" y2="326.72" stroke="#ececec" stroke-width="0.6" />
<line x1="377.00" y1="340.29" x2="513.40" y2="340.29" stroke="#ececec" stroke-width="0.6" />
<line x1="377.00" y1="353.86" x2="513.40" y2="353.86" stroke="#ececec" stroke-width="0.6" />
<line x1="377.00" y1="367.43" x2="513.40" y2="367.43" stroke="#ececec" stroke-width="0.6" />
<line x1="377.00" y1="381.00" x2="513.40" y2="381.00" stroke="#ececec" stroke-width="0.6" />
<line x1="377.00" y1="394.57" x2="513.40" y2="394.57" stroke="#ececec" stroke-width="0.6" />
<line x1="377.00" y1="408.14" x2="513.40" y2="408.14" stroke="#ececec" stroke-width="0.6" />
<line x1="377.00" y1="421.71" x2="513.40" y2="421.71" stroke="#ececec" stroke-width="0.6" />
<line x1="377.00" y1="435.28" x2="513.40" y2="435.28" stroke="#ececec" stroke-width="0.6" />
<line x1="377.00" y1="448.85" x2="513.40" y2="448.85" stroke="#ececec" stroke-width="0.6" />
<line x1="377.00" y1="462.42" x2="513.40" y2="462.42" stroke="#ececec" stroke-width="0.6" />
<line x1="377.00" y1="475.99" x2="513.40" y2="475.99" stroke="#ececec" stroke-width="0.6" />
<line x1="377.00" y1="489.56" x2="513.40" y2="489.56" stroke="#ececec" stroke-width="0.6" />
<line x1="377.00" y1="503.13" x2="513.40" y2="503.13" stroke="#ececec" stroke-width="0.6" />
<rect x="383.00" y="36.15" width="43.61" height="3.20" fill="#484c8d" />
<rect x="383.00" y="39.35" width="26.00" height="3.20" fill="#6b6ba7" />
<rect x="383.00" y="42.55" width="11.60" height="3.20" fill="#9b99c5" />
<text x="430.87" y="41.03" font-size="9.1" fill="#1e1e1e" >1056</text>
<rect x="383.00" y="49.71" width="30.40" height="3.20" fill="#484c8d" />
<rect x="383.00" y="52.91" width="15.40" height="3.20" fill="#6b6ba7" />
<rect x="383.00" y="56.11" width="6.00" height="3.20" fill="#9b99c5" />
<text x="416.64" y="54.59" font-size="9.1" fill="#1e1e1e" >736</text>
<rect x="383.00" y="63.27" width="33.70" height="3.20" fill="#484c8d" />
<rect x="383.00" y="66.47" width="19.40" height="3.20" fill="#6b6ba7" />
<rect x="383.00" y="69.67" width="9.00" height="3.20" fill="#9b99c5" />
<text x="419.94" y="68.15" font-size="9.1" fill="#1e1e1e" >816</text>
<rect x="383.00" y="76.83" width="33.04" height="3.20" fill="#484c8d" />
<rect x="383.00" y="80.03" width="19.00" height="3.20" fill="#6b6ba7" />
<rect x="383.00" y="83.23" width="9.00" height="3.20" fill="#9b99c5" />
<text x="419.28" y="81.71" font-size="9.1" fill="#1e1e1e" >800</text>
<rect x="383.00" y="90.39" width="32.21" height="3.20" fill="#484c8d" />
<rect x="383.00" y="93.59" width="14.00" height="3.20" fill="#6b6ba7" />
<rect x="383.00" y="96.79" width="5.00" height="3.20" fill="#9b99c5" />
<text x="418.46" y="95.27" font-size="9.1" fill="#1e1e1e" >780</text>
<rect x="383.00" y="103.95" width="32.42" height="3.20" fill="#484c8d" />
<rect x="383.00" y="107.15" width="18.00" height="3.20" fill="#6b6ba7" />
<rect x="383.00" y="110.35" width="6.00" height="3.20" fill="#9b99c5" />
<text x="418.66" y="108.83" font-size="9.1" fill="#1e1e1e" >785</text>
<rect x="383.00" y="117.51" width="40.56" height="3.20" fill="#484c8d" />
<rect x="383.00" y="120.71" width="23.40" height="3.20" fill="#6b6ba7" />
<rect x="383.00" y="123.91" width="9.60" height="3.20" fill="#9b99c5" />
<text x="426.80" y="122.39" font-size="9.1" fill="#1e1e1e" >982</text>
<rect x="383.00" y="131.07" width="44.56" height="3.20" fill="#484c8d" />
<rect x="383.00" y="134.27" width="26.00" height="3.20" fill="#6b6ba7" />
<rect x="383.00" y="137.47" width="12.00" height="3.20" fill="#9b99c5" />
<text x="431.82" y="135.95" font-size="9.1" fill="#1e1e1e" >1079</text>
<rect x="383.00" y="144.63" width="56.37" height="3.20" fill="#484c8d" />
<rect x="383.00" y="147.83" width="31.60" height="3.20" fill="#6b6ba7" />
<rect x="383.00" y="151.03" width="15.00" height="3.20" fill="#9b99c5" />
<text x="443.63" y="149.51" font-size="9.1" fill="#1e1e1e" >1365</text>
<rect x="383.00" y="158.19" width="20.11" height="3.20" fill="#484c8d" />
<rect x="383.00" y="161.39" width="8.60" height="3.20" fill="#6b6ba7" />
<rect x="383.00" y="164.59" width="2.60" height="3.20" fill="#9b99c5" />
<text x="406.36" y="163.07" font-size="9.1" fill="#1e1e1e" >487</text>
<rect x="383.00" y="171.75" width="33.04" height="3.20" fill="#484c8d" />
<rect x="383.00" y="174.95" width="17.60" height="3.20" fill="#6b6ba7" />
<rect x="383.00" y="178.15" width="7.60" height="3.20" fill="#9b99c5" />
<text x="419.28" y="176.63" font-size="9.1" fill="#1e1e1e" >800</text>
<rect x="383.00" y="185.31" width="31.68" height="3.20" fill="#484c8d" />
<rect x="383.00" y="188.51" width="16.40" height="3.20" fill="#6b6ba7" />
<rect x="383.00" y="191.71" width="6.40" height="3.20" fill="#9b99c5" />
<text x="417.92" y="190.19" font-size="9.1" fill="#1e1e1e" >767</text>
<rect x="383.00" y="198.87" width="37.46" height="3.20" fill="#484c8d" />
<rect x="383.00" y="202.07" width="20.40" height="3.20" fill="#6b6ba7" />
<rect x="383.00" y="205.27" width="9.60" height="3.20" fill="#9b99c5" />
<text x="423.70" y="203.75" font-size="9.1" fill="#1e1e1e" >907</text>
<rect x="383.00" y="212.43" width="63.93" height="3.20" fill="#484c8d" />
<rect x="383.00" y="215.63" width="37.40" height="3.20" fill="#6b6ba7" />
<rect x="383.00" y="218.83" width="23.00" height="3.20" fill="#9b99c5" />
<text x="451.19" y="217.31" font-size="9.1" fill="#1e1e1e" >1548</text>
<rect x="383.00" y="240.60" width="74.01" height="3.20" fill="#484c8d" />
<rect x="383.00" y="243.80" width="43.20" height="3.20" fill="#6b6ba7" />
<rect x="383.00" y="247.00" width="21.00" height="3.20" fill="#9b99c5" />
<text x="461.26" y="245.48" font-size="9.1" fill="#1e1e1e" >1792</text>
<rect x="383.00" y="254.17" width="104.37" height="3.20" fill="#484c8d" />
<rect x="383.00" y="257.37" width="68.30" height="3.20" fill="#6b6ba7" />
<rect x="383.00" y="260.57" width="37.00" height="3.20" fill="#9b99c5" />
<text x="491.62" y="259.05" font-size="9.1" fill="#1e1e1e" >2527</text>
<rect x="383.00" y="267.74" width="72.19" height="3.20" fill="#484c8d" />
<rect x="383.00" y="270.94" width="46.10" height="3.20" fill="#6b6ba7" />
<rect x="383.00" y="274.14" width="24.80" height="3.20" fill="#9b99c5" />
<text x="459.45" y="272.62" font-size="9.1" fill="#1e1e1e" >1748</text>
<rect x="383.00" y="281.31" width="99.20" height="3.20" fill="#484c8d" />
<rect x="383.00" y="284.51" width="66.60" height="3.20" fill="#6b6ba7" />
<rect x="383.00" y="287.71" width="36.00" height="3.20" fill="#9b99c5" />
<text x="486.46" y="286.19" font-size="9.1" fill="#1e1e1e" >2402</text>
<rect x="383.00" y="294.88" width="51.91" height="3.20" fill="#484c8d" />
<rect x="383.00" y="298.08" width="28.00" height="3.20" fill="#6b6ba7" />
<rect x="383.00" y="301.28" width="13.80" height="3.20" fill="#9b99c5" />
<text x="439.17" y="299.76" font-size="9.1" fill="#1e1e1e" >1257</text>
<rect x="383.00" y="308.45" width="47.33" height="3.20" fill="#484c8d" />
<rect x="383.00" y="311.65" width="26.20" height="3.20" fill="#6b6ba7" />
<rect x="383.00" y="314.85" width="11.90" height="3.20" fill="#9b99c5" />
<text x="434.58" y="313.33" font-size="9.1" fill="#1e1e1e" >1146</text>
<rect x="383.00" y="322.02" width="90.16" height="3.20" fill="#484c8d" />
<rect x="383.00" y="325.22" width="58.40" height="3.20" fill="#6b6ba7" />
<rect x="383.00" y="328.42" width="29.40" height="3.20" fill="#9b99c5" />
<text x="477.41" y="326.90" font-size="9.1" fill="#1e1e1e" >2183</text>
<rect x="383.00" y="335.59" width="86.36" height="3.20" fill="#484c8d" />
<rect x="383.00" y="338.79" width="54.20" height="3.20" fill="#6b6ba7" />
<rect x="383.00" y="341.99" width="30.90" height="3.20" fill="#9b99c5" />
<text x="473.61" y="340.47" font-size="9.1" fill="#1e1e1e" >2091</text>
<rect x="383.00" y="349.16" width="106.51" height="3.20" fill="#484c8d" />
<rect x="383.00" y="352.36" width="69.80" height="3.20" fill="#6b6ba7" />
<rect x="383.00" y="355.56" width="38.90" height="3.20" fill="#9b99c5" />
<text x="493.77" y="354.04" font-size="9.1" fill="#1e1e1e" >2579</text>
<rect x="383.00" y="362.73" width="19.66" height="3.20" fill="#484c8d" />
<rect x="383.00" y="365.93" width="8.10" height="3.20" fill="#6b6ba7" />
<rect x="383.00" y="369.13" width="2.40" height="3.20" fill="#9b99c5" />
<text x="405.90" y="367.61" font-size="9.1" fill="#1e1e1e" >476</text>
<rect x="383.00" y="376.30" width="36.63" height="3.20" fill="#484c8d" />
<rect x="383.00" y="379.50" width="16.70" height="3.20" fill="#6b6ba7" />
<rect x="383.00" y="382.70" width="10.00" height="3.20" fill="#9b99c5" />
<text x="422.88" y="381.18" font-size="9.1" fill="#1e1e1e" >887</text>
<rect x="383.00" y="389.87" width="45.22" height="3.20" fill="#484c8d" />
<rect x="383.00" y="393.07" width="25.80" height="3.20" fill="#6b6ba7" />
<rect x="383.00" y="396.27" width="8.70" height="3.20" fill="#9b99c5" />
<text x="432.48" y="394.75" font-size="9.1" fill="#1e1e1e" >1095</text>
<rect x="383.00" y="403.44" width="56.37" height="3.20" fill="#484c8d" />
<rect x="383.00" y="406.64" width="30.50" height="3.20" fill="#6b6ba7" />
<rect x="383.00" y="409.84" width="13.80" height="3.20" fill="#9b99c5" />
<text x="443.63" y="408.32" font-size="9.1" fill="#1e1e1e" >1365</text>
<rect x="383.00" y="417.01" width="83.01" height="3.20" fill="#484c8d" />
<rect x="383.00" y="420.21" width="50.80" height="3.20" fill="#6b6ba7" />
<rect x="383.00" y="423.41" width="27.70" height="3.20" fill="#9b99c5" />
<text x="470.27" y="421.89" font-size="9.1" fill="#1e1e1e" >2010</text>
<rect x="383.00" y="430.58" width="18.58" height="3.20" fill="#484c8d" />
<rect x="383.00" y="433.78" width="8.10" height="3.20" fill="#6b6ba7" />
<rect x="383.00" y="436.98" width="2.40" height="3.20" fill="#9b99c5" />
<text x="404.83" y="435.46" font-size="9.1" fill="#1e1e1e" >450</text>
<rect x="383.00" y="444.15" width="73.93" height="3.20" fill="#484c8d" />
<rect x="383.00" y="447.35" width="42.90" height="3.20" fill="#6b6ba7" />
<rect x="383.00" y="450.55" width="20.80" height="3.20" fill="#9b99c5" />
<text x="461.18" y="449.03" font-size="9.1" fill="#1e1e1e" >1790</text>
<rect x="383.00" y="457.72" width="60.88" height="3.20" fill="#484c8d" />
<rect x="383.00" y="460.92" width="34.70" height="3.20" fill="#6b6ba7" />
<rect x="383.00" y="464.12" width="16.70" height="3.20" fill="#9b99c5" />
<text x="448.13" y="462.60" font-size="9.1" fill="#1e1e1e" >1474</text>
<rect x="383.00" y="471.29" width="104.49" height="3.20" fill="#484c8d" />
<rect x="383.00" y="474.49" width="72.10" height="3.20" fill="#6b6ba7" />
<rect x="383.00" y="477.69" width="37.50" height="3.20" fill="#9b99c5" />
<text x="491.74" y="476.17" font-size="9.1" fill="#1e1e1e" >2530</text>
<rect x="383.00" y="484.86" width="68.19" height="3.20" fill="#484c8d" />
<rect x="383.00" y="488.06" width="40.00" height="3.20" fill="#6b6ba7" />
<rect x="383.00" y="491.26" width="21.00" height="3.20" fill="#9b99c5" />
<text x="455.44" y="489.74" font-size="9.1" fill="#1e1e1e" >1651</text>
<rect x="383.00" y="498.43" width="80.25" height="3.20" fill="#484c8d" />
<rect x="383.00" y="501.63" width="49.50" height="3.20" fill="#6b6ba7" />
<rect x="383.00" y="504.83" width="26.20" height="3.20" fill="#9b99c5" />
<text x="467.50" y="503.31" font-size="9.1" fill="#1e1e1e" >1943</text>
<text x="383.00" y="519.55" font-size="9.3" fill="#858585" text-anchor="middle" >0</text>
<text x="465.60" y="519.55" font-size="9.3" fill="#858585" text-anchor="middle" >2000</text>
<text x="444.30" y="18.08" font-size="9.4" fill="#3c4794" text-anchor="middle" font-weight="bold" >Yeast</text>
<text x="445.20" y="531.88" font-size="9.4" fill="#1a1a1a" text-anchor="middle" >No. of identified proteins</text>
<rect x="461.40" y="68.20" width="3.40" height="8.70" fill="#484c8d" />
<rect x="461.40" y="76.90" width="3.40" height="8.70" fill="#6b6ba7" />
<rect x="461.40" y="85.60" width="3.40" height="8.70" fill="#9b99c5" />
<text x="466.80" y="75.64" font-size="9" fill="#111" >PYE1</text>
<text x="466.80" y="84.64" font-size="9" fill="#111" >PYE3</text>
<text x="466.80" y="93.64" font-size="9" fill="#111" >PYE9</text>
<line x1="525.60" y1="33.00" x2="525.60" y2="225.80" stroke="#ececec" stroke-width="0.6" />
<line x1="556.70" y1="33.00" x2="556.70" y2="225.80" stroke="#ececec" stroke-width="0.6" />
<line x1="587.80" y1="33.00" x2="587.80" y2="225.80" stroke="#ececec" stroke-width="0.6" />
<line x1="618.90" y1="33.00" x2="618.90" y2="225.80" stroke="#ececec" stroke-width="0.6" />
<line x1="650.00" y1="33.00" x2="650.00" y2="225.80" stroke="#ececec" stroke-width="0.6" />
<line x1="519.50" y1="41.25" x2="656.00" y2="41.25" stroke="#ececec" stroke-width="0.6" />
<line x1="519.50" y1="54.81" x2="656.00" y2="54.81" stroke="#ececec" stroke-width="0.6" />
<line x1="519.50" y1="68.37" x2="656.00" y2="68.37" stroke="#ececec" stroke-width="0.6" />
<line x1="519.50" y1="81.93" x2="656.00" y2="81.93" stroke="#ececec" stroke-width="0.6" />
<line x1="519.50" y1="95.49" x2="656.00" y2="95.49" stroke="#ececec" stroke-width="0.6" />
<line x1="519.50" y1="109.05" x2="656.00" y2="109.05" stroke="#ececec" stroke-width="0.6" />
<line x1="519.50" y1="122.61" x2="656.00" y2="122.61" stroke="#ececec" stroke-width="0.6" />
<line x1="519.50" y1="136.17" x2="656.00" y2="136.17" stroke="#ececec" stroke-width="0.6" />
<line x1="519.50" y1="149.73" x2="656.00" y2="149.73" stroke="#ececec" stroke-width="0.6" />
<line x1="519.50" y1="163.29" x2="656.00" y2="163.29" stroke="#ececec" stroke-width="0.6" />
<line x1="519.50" y1="176.85" x2="656.00" y2="176.85" stroke="#ececec" stroke-width="0.6" />
<line x1="519.50" y1="190.41" x2="656.00" y2="190.41" stroke="#ececec" stroke-width="0.6" />
<line x1="519.50" y1="203.97" x2="656.00" y2="203.97" stroke="#ececec" stroke-width="0.6" />
<line x1="519.50" y1="217.53" x2="656.00" y2="217.53" stroke="#ececec" stroke-width="0.6" />
<line x1="525.60" y1="237.00" x2="525.60" y2="511.30" stroke="#ececec" stroke-width="0.6" />
<line x1="556.70" y1="237.00" x2="556.70" y2="511.30" stroke="#ececec" stroke-width="0.6" />
<line x1="587.80" y1="237.00" x2="587.80" y2="511.30" stroke="#ececec" stroke-width="0.6" />
<line x1="618.90" y1="237.00" x2="618.90" y2="511.30" stroke="#ececec" stroke-width="0.6" />
<line x1="650.00" y1="237.00" x2="650.00" y2="511.30" stroke="#ececec" stroke-width="0.6" />
<line x1="519.50" y1="245.30" x2="656.00" y2="245.30" stroke="#ececec" stroke-width="0.6" />
<line x1="519.50" y1="258.87" x2="656.00" y2="258.87" stroke="#ececec" stroke-width="0.6" />
<line x1="519.50" y1="272.44" x2="656.00" y2="272.44" stroke="#ececec" stroke-width="0.6" />
<line x1="519.50" y1="286.01" x2="656.00" y2="286.01" stroke="#ececec" stroke-width="0.6" />
<line x1="519.50" y1="299.58" x2="656.00" y2="299.58" stroke="#ececec" stroke-width="0.6" />
<line x1="519.50" y1="313.15" x2="656.00" y2="313.15" stroke="#ececec" stroke-width="0.6" />
<line x1="519.50" y1="326.72" x2="656.00" y2="326.72" stroke="#ececec" stroke-width="0.6" />
<line x1="519.50" y1="340.29" x2="656.00" y2="340.29" stroke="#ececec" stroke-width="0.6" />
<line x1="519.50" y1="353.86" x2="656.00" y2="353.86" stroke="#ececec" stroke-width="0.6" />
<line x1="519.50" y1="367.43" x2="656.00" y2="367.43" stroke="#ececec" stroke-width="0.6" />
<line x1="519.50" y1="381.00" x2="656.00" y2="381.00" stroke="#ececec" stroke-width="0.6" />
<line x1="519.50" y1="394.57" x2="656.00" y2="394.57" stroke="#ececec" stroke-width="0.6" />
<line x1="519.50" y1="408.14" x2="656.00" y2="408.14" stroke="#ececec" stroke-width="0.6" />
<line x1="519.50" y1="421.71" x2="656.00" y2="421.71" stroke="#ececec" stroke-width="0.6" />
<line x1="519.50" y1="435.28" x2="656.00" y2="435.28" stroke="#ececec" stroke-width="0.6" />
<line x1="519.50" y1="448.85" x2="656.00" y2="448.85" stroke="#ececec" stroke-width="0.6" />
<line x1="519.50" y1="462.42" x2="656.00" y2="462.42" stroke="#ececec" stroke-width="0.6" />
<line x1="519.50" y1="475.99" x2="656.00" y2="475.99" stroke="#ececec" stroke-width="0.6" />
<line x1="519.50" y1="489.56" x2="656.00" y2="489.56" stroke="#ececec" stroke-width="0.6" />
<line x1="519.50" y1="503.13" x2="656.00" y2="503.13" stroke="#ececec" stroke-width="0.6" />
<rect x="525.60" y="36.15" width="52.75" height="3.20" fill="#0b5a42" />
<rect x="525.60" y="39.35" width="31.20" height="3.20" fill="#0c9371" />
<rect x="525.60" y="42.55" width="15.10" height="3.20" fill="#38b790" />
<text x="581.69" y="41.03" font-size="9.1" fill="#1e1e1e" >848</text>
<rect x="525.60" y="49.71" width="37.76" height="3.20" fill="#0b5a42" />
<rect x="525.60" y="52.91" width="19.90" height="3.20" fill="#0c9371" />
<rect x="525.60" y="56.11" width="8.40" height="3.20" fill="#38b790" />
<text x="566.70" y="54.59" font-size="9.1" fill="#1e1e1e" >607</text>
<rect x="525.60" y="63.27" width="43.10" height="3.20" fill="#0b5a42" />
<rect x="525.60" y="66.47" width="25.80" height="3.20" fill="#0c9371" />
<rect x="525.60" y="69.67" width="11.70" height="3.20" fill="#38b790" />
<text x="572.05" y="68.15" font-size="9.1" fill="#1e1e1e" >693</text>
<rect x="525.60" y="76.83" width="41.61" height="3.20" fill="#0b5a42" />
<rect x="525.60" y="80.03" width="24.50" height="3.20" fill="#0c9371" />
<rect x="525.60" y="83.23" width="11.10" height="3.20" fill="#38b790" />
<text x="570.56" y="81.71" font-size="9.1" fill="#1e1e1e" >669</text>
<rect x="525.60" y="90.39" width="39.37" height="3.20" fill="#0b5a42" />
<rect x="525.60" y="93.59" width="17.80" height="3.20" fill="#0c9371" />
<rect x="525.60" y="96.79" width="5.80" height="3.20" fill="#38b790" />
<text x="568.32" y="95.27" font-size="9.1" fill="#1e1e1e" >633</text>
<rect x="525.60" y="103.95" width="42.17" height="3.20" fill="#0b5a42" />
<rect x="525.60" y="107.15" width="22.40" height="3.20" fill="#0c9371" />
<rect x="525.60" y="110.35" width="8.40" height="3.20" fill="#38b790" />
<text x="571.12" y="108.83" font-size="9.1" fill="#1e1e1e" >678</text>
<rect x="525.60" y="117.51" width="51.81" height="3.20" fill="#0b5a42" />
<rect x="525.60" y="120.71" width="29.80" height="3.20" fill="#0c9371" />
<rect x="525.60" y="123.91" width="13.00" height="3.20" fill="#38b790" />
<text x="580.76" y="122.39" font-size="9.1" fill="#1e1e1e" >833</text>
<rect x="525.60" y="131.07" width="53.93" height="3.20" fill="#0b5a42" />
<rect x="525.60" y="134.27" width="31.20" height="3.20" fill="#0c9371" />
<rect x="525.60" y="137.47" width="15.90" height="3.20" fill="#38b790" />
<text x="582.87" y="135.95" font-size="9.1" fill="#1e1e1e" >867</text>
<rect x="525.60" y="144.63" width="64.56" height="3.20" fill="#0b5a42" />
<rect x="525.60" y="147.83" width="38.40" height="3.20" fill="#0c9371" />
<rect x="525.60" y="151.03" width="19.10" height="3.20" fill="#38b790" />
<text x="594.52" y="149.51" font-size="9.1" fill="#1e1e1e" >1038</text>
<rect x="525.60" y="158.19" width="25.69" height="3.20" fill="#0b5a42" />
<rect x="525.60" y="161.39" width="11.10" height="3.20" fill="#0c9371" />
<rect x="525.60" y="164.59" width="3.10" height="3.20" fill="#38b790" />
<text x="554.64" y="163.07" font-size="9.1" fill="#1e1e1e" >413</text>
<rect x="525.60" y="171.75" width="41.92" height="3.20" fill="#0b5a42" />
<rect x="525.60" y="174.95" width="22.40" height="3.20" fill="#0c9371" />
<rect x="525.60" y="178.15" width="9.80" height="3.20" fill="#38b790" />
<text x="570.87" y="176.63" font-size="9.1" fill="#1e1e1e" >674</text>
<rect x="525.60" y="185.31" width="40.49" height="3.20" fill="#0b5a42" />
<rect x="525.60" y="188.51" width="23.70" height="3.20" fill="#0c9371" />
<rect x="525.60" y="191.71" width="7.10" height="3.20" fill="#38b790" />
<text x="569.44" y="190.19" font-size="9.1" fill="#1e1e1e" >651</text>
<rect x="525.60" y="198.87" width="47.33" height="3.20" fill="#0b5a42" />
<rect x="525.60" y="202.07" width="27.20" height="3.20" fill="#0c9371" />
<rect x="525.60" y="205.27" width="11.90" height="3.20" fill="#38b790" />
<text x="576.28" y="203.75" font-size="9.1" fill="#1e1e1e" >761</text>
<rect x="525.60" y="212.43" width="68.11" height="3.20" fill="#0b5a42" />
<rect x="525.60" y="215.63" width="44.00" height="3.20" fill="#0c9371" />
<rect x="525.60" y="218.83" width="28.50" height="3.20" fill="#38b790" />
<text x="598.07" y="217.31" font-size="9.1" fill="#1e1e1e" >1095</text>
<rect x="525.60" y="240.60" width="78.87" height="3.20" fill="#0b5a42" />
<rect x="525.60" y="243.80" width="50.30" height="3.20" fill="#0c9371" />
<rect x="525.60" y="247.00" width="28.10" height="3.20" fill="#38b790" />
<text x="608.83" y="245.48" font-size="9.1" fill="#1e1e1e" >1268</text>
<rect x="525.60" y="254.17" width="100.64" height="3.20" fill="#0b5a42" />
<rect x="525.60" y="257.37" width="74.40" height="3.20" fill="#0c9371" />
<rect x="525.60" y="260.57" width="44.30" height="3.20" fill="#38b790" />
<text x="630.60" y="259.05" font-size="9.1" fill="#1e1e1e" >1618</text>
<rect x="525.60" y="267.74" width="79.24" height="3.20" fill="#0b5a42" />
<rect x="525.60" y="270.94" width="53.40" height="3.20" fill="#0c9371" />
<rect x="525.60" y="274.14" width="29.30" height="3.20" fill="#38b790" />
<text x="609.20" y="272.62" font-size="9.1" fill="#1e1e1e" >1274</text>
<rect x="525.60" y="281.31" width="97.84" height="3.20" fill="#0b5a42" />
<rect x="525.60" y="284.51" width="74.40" height="3.20" fill="#0c9371" />
<rect x="525.60" y="287.71" width="44.50" height="3.20" fill="#38b790" />
<text x="627.80" y="286.19" font-size="9.1" fill="#1e1e1e" >1573</text>
<rect x="525.60" y="294.88" width="62.01" height="3.20" fill="#0b5a42" />
<rect x="525.60" y="298.08" width="35.40" height="3.20" fill="#0c9371" />
<rect x="525.60" y="301.28" width="17.80" height="3.20" fill="#38b790" />
<text x="590.96" y="299.76" font-size="9.1" fill="#1e1e1e" >997</text>
<rect x="525.60" y="308.45" width="58.16" height="3.20" fill="#0b5a42" />
<rect x="525.60" y="311.65" width="33.40" height="3.20" fill="#0c9371" />
<rect x="525.60" y="314.85" width="15.40" height="3.20" fill="#38b790" />
<text x="587.10" y="313.33" font-size="9.1" fill="#1e1e1e" >935</text>
<rect x="525.60" y="322.02" width="92.80" height="3.20" fill="#0b5a42" />
<rect x="525.60" y="325.22" width="65.90" height="3.20" fill="#0c9371" />
<rect x="525.60" y="328.42" width="36.50" height="3.20" fill="#38b790" />
<text x="622.76" y="326.90" font-size="9.1" fill="#1e1e1e" >1492</text>
<rect x="525.60" y="335.59" width="84.72" height="3.20" fill="#0b5a42" />
<rect x="525.60" y="338.79" width="61.10" height="3.20" fill="#0c9371" />
<rect x="525.60" y="341.99" width="37.30" height="3.20" fill="#38b790" />
<text x="614.68" y="340.47" font-size="9.1" fill="#1e1e1e" >1362</text>
<rect x="525.60" y="349.16" width="103.44" height="3.20" fill="#0b5a42" />
<rect x="525.60" y="352.36" width="77.00" height="3.20" fill="#0c9371" />
<rect x="525.60" y="355.56" width="47.90" height="3.20" fill="#38b790" />
<text x="633.40" y="354.04" font-size="9.1" fill="#1e1e1e" >1663</text>
<rect x="525.60" y="362.73" width="45.65" height="3.20" fill="#0b5a42" />
<rect x="525.60" y="365.93" width="22.10" height="3.20" fill="#0c9371" />
<rect x="525.60" y="369.13" width="8.90" height="3.20" fill="#38b790" />
<text x="574.60" y="367.61" font-size="9.1" fill="#1e1e1e" >734</text>
<rect x="525.60" y="376.30" width="41.92" height="3.20" fill="#0b5a42" />
<rect x="525.60" y="379.50" width="19.00" height="3.20" fill="#0c9371" />
<rect x="525.60" y="382.70" width="11.30" height="3.20" fill="#38b790" />
<text x="570.87" y="381.18" font-size="9.1" fill="#1e1e1e" >674</text>
<rect x="525.60" y="389.87" width="55.86" height="3.20" fill="#0b5a42" />
<rect x="525.60" y="393.07" width="31.20" height="3.20" fill="#0c9371" />
<rect x="525.60" y="396.27" width="11.70" height="3.20" fill="#38b790" />
<text x="584.80" y="394.75" font-size="9.1" fill="#1e1e1e" >898</text>
<rect x="525.60" y="403.44" width="65.81" height="3.20" fill="#0b5a42" />
<rect x="525.60" y="406.64" width="38.20" height="3.20" fill="#0c9371" />
<rect x="525.60" y="409.84" width="18.50" height="3.20" fill="#38b790" />
<text x="595.77" y="408.32" font-size="9.1" fill="#1e1e1e" >1058</text>
<rect x="525.60" y="417.01" width="84.59" height="3.20" fill="#0b5a42" />
<rect x="525.60" y="420.21" width="59.90" height="3.20" fill="#0c9371" />
<rect x="525.60" y="423.41" width="34.10" height="3.20" fill="#38b790" />
<text x="614.55" y="421.89" font-size="9.1" fill="#1e1e1e" >1360</text>
<rect x="525.60" y="430.58" width="46.90" height="3.20" fill="#0b5a42" />
<rect x="525.60" y="433.78" width="25.00" height="3.20" fill="#0c9371" />
<rect x="525.60" y="436.98" width="10.10" height="3.20" fill="#38b790" />
<text x="575.85" y="435.46" font-size="9.1" fill="#1e1e1e" >754</text>
<rect x="525.60" y="444.15" width="80.05" height="3.20" fill="#0b5a42" />
<rect x="525.60" y="447.35" width="51.50" height="3.20" fill="#0c9371" />
<rect x="525.60" y="450.55" width="26.90" height="3.20" fill="#38b790" />
<text x="610.01" y="449.03" font-size="9.1" fill="#1e1e1e" >1287</text>
<rect x="525.60" y="457.72" width="70.97" height="3.20" fill="#0b5a42" />
<rect x="525.60" y="460.92" width="40.20" height="3.20" fill="#0c9371" />
<rect x="525.60" y="464.12" width="23.80" height="3.20" fill="#38b790" />
<text x="600.93" y="462.60" font-size="9.1" fill="#1e1e1e" >1141</text>
<rect x="525.60" y="471.29" width="100.39" height="3.20" fill="#0b5a42" />
<rect x="525.60" y="474.49" width="75.60" height="3.20" fill="#0c9371" />
<rect x="525.60" y="477.69" width="46.20" height="3.20" fill="#38b790" />
<text x="630.35" y="476.17" font-size="9.1" fill="#1e1e1e" >1614</text>
<rect x="525.60" y="484.86" width="73.46" height="3.20" fill="#0b5a42" />
<rect x="525.60" y="488.06" width="47.90" height="3.20" fill="#0c9371" />
<rect x="525.60" y="491.26" width="26.20" height="3.20" fill="#38b790" />
<text x="603.42" y="489.74" font-size="9.1" fill="#1e1e1e" >1181</text>
<rect x="525.60" y="498.43" width="84.84" height="3.20" fill="#0b5a42" />
<rect x="525.60" y="501.63" width="59.90" height="3.20" fill="#0c9371" />
<rect x="525.60" y="504.83" width="34.10" height="3.20" fill="#38b790" />
<text x="614.80" y="503.31" font-size="9.1" fill="#1e1e1e" >1364</text>
<text x="525.60" y="519.55" font-size="9.3" fill="#858585" text-anchor="middle" >0</text>
<text x="587.80" y="519.55" font-size="9.3" fill="#858585" text-anchor="middle" >1000</text>
<text x="650.00" y="519.55" font-size="9.3" fill="#858585" text-anchor="middle" >2000</text>
<text x="588.00" y="18.08" font-size="9.4" fill="#0e6a4e" text-anchor="middle" font-weight="bold" font-style="italic" >E. coli</text>
<text x="587.75" y="531.88" font-size="9.4" fill="#1a1a1a" text-anchor="middle" >No. of identified proteins</text>
<rect x="608.30" y="68.20" width="3.40" height="8.70" fill="#0b5a42" />
<rect x="608.30" y="76.90" width="3.40" height="8.70" fill="#0c9371" />
<rect x="608.30" y="85.60" width="3.40" height="8.70" fill="#38b790" />
<text x="613.70" y="75.64" font-size="9" fill="#111" >PYE1</text>
<text x="613.70" y="84.64" font-size="9" fill="#111" >PYE3</text>
<text x="613.70" y="93.64" font-size="9" fill="#111" >PYE9</text>
<rect x="665.30" y="6.00" width="16.30" height="224.20" fill="#d4d4d4" stroke="#333" stroke-width="0.8"/>
<rect x="665.30" y="232.40" width="16.30" height="304.60" fill="#d4d4d4" stroke="#333" stroke-width="0.8"/>
<text x="0" y="0" font-size="9.4" font-weight="bold" fill="#111" text-anchor="middle" transform="translate(671.6 119.3) rotate(90)">DDA</text>
<text x="0" y="0" font-size="9.4" font-weight="bold" fill="#111" text-anchor="middle" transform="translate(671.6 384.7) rotate(90)">DIA</text>
<line x1="89.00" y1="231.50" x2="665.00" y2="231.50" stroke="#666" stroke-width="0.8" stroke-dasharray="1 1"/>
<text x="228.30" y="14.11" font-size="14.2" fill="#000" font-weight="bold" >b</text>
<line x1="148.10" y1="658.70" x2="325.50" y2="658.70" stroke="#ececec" stroke-width="0.6" />
<line x1="148.10" y1="644.83" x2="325.50" y2="644.83" stroke="#ececec" stroke-width="0.6" />
<line x1="148.10" y1="630.96" x2="325.50" y2="630.96" stroke="#ececec" stroke-width="0.6" />
<line x1="148.10" y1="617.09" x2="325.50" y2="617.09" stroke="#ececec" stroke-width="0.6" />
<line x1="148.10" y1="603.22" x2="325.50" y2="603.22" stroke="#ececec" stroke-width="0.6" />
<line x1="148.10" y1="589.35" x2="325.50" y2="589.35" stroke="#ececec" stroke-width="0.6" />
<line x1="148.10" y1="575.48" x2="325.50" y2="575.48" stroke="#ececec" stroke-width="0.6" />
<line x1="148.10" y1="561.61" x2="325.50" y2="561.61" stroke="#ececec" stroke-width="0.6" />
<line x1="158.00" y1="559.00" x2="158.00" y2="661.70" stroke="#ececec" stroke-width="0.6" />
<line x1="175.55" y1="559.00" x2="175.55" y2="661.70" stroke="#ececec" stroke-width="0.6" />
<line x1="193.10" y1="559.00" x2="193.10" y2="661.70" stroke="#ececec" stroke-width="0.6" />
<line x1="210.65" y1="559.00" x2="210.65" y2="661.70" stroke="#ececec" stroke-width="0.6" />
<line x1="228.20" y1="559.00" x2="228.20" y2="661.70" stroke="#ececec" stroke-width="0.6" />
<line x1="245.75" y1="559.00" x2="245.75" y2="661.70" stroke="#ececec" stroke-width="0.6" />
<line x1="263.30" y1="559.00" x2="263.30" y2="661.70" stroke="#ececec" stroke-width="0.6" />
<line x1="280.85" y1="559.00" x2="280.85" y2="661.70" stroke="#ececec" stroke-width="0.6" />
<line x1="298.40" y1="559.00" x2="298.40" y2="661.70" stroke="#ececec" stroke-width="0.6" />
<line x1="315.95" y1="559.00" x2="315.95" y2="661.70" stroke="#ececec" stroke-width="0.6" />
<rect x="150.10" y="613.21" width="15.80" height="45.49" fill="#119373" />
<rect x="150.10" y="570.90" width="15.80" height="42.30" fill="#6e6aab" />
<rect x="150.10" y="563.97" width="15.80" height="6.93" fill="#d9631d" />
<text x="158.00" y="557.60" font-size="8.6" fill="#1a1a1a" text-anchor="middle" >683</text>
<rect x="167.65" y="640.67" width="15.80" height="18.03" fill="#119373" />
<rect x="167.65" y="603.22" width="15.80" height="37.45" fill="#6e6aab" />
<rect x="167.65" y="597.26" width="15.80" height="5.96" fill="#d9631d" />
<text x="175.55" y="594.50" font-size="8.6" fill="#1a1a1a" text-anchor="middle" >443</text>
<rect x="185.20" y="645.80" width="15.80" height="12.90" fill="#119373" />
<rect x="185.20" y="630.54" width="15.80" height="15.26" fill="#6e6aab" />
<rect x="185.20" y="629.16" width="15.80" height="1.39" fill="#d9631d" />
<text x="193.10" y="626.30" font-size="8.6" fill="#1a1a1a" text-anchor="middle" >213</text>
<rect x="202.75" y="650.24" width="15.80" height="8.46" fill="#119373" />
<rect x="202.75" y="632.90" width="15.80" height="17.34" fill="#6e6aab" />
<rect x="202.75" y="631.51" width="15.80" height="1.39" fill="#d9631d" />
<text x="210.65" y="629.70" font-size="8.6" fill="#1a1a1a" text-anchor="middle" >196</text>
<rect x="220.30" y="655.09" width="15.80" height="3.61" fill="#119373" />
<rect x="220.30" y="647.74" width="15.80" height="7.35" fill="#6e6aab" />
<rect x="220.30" y="645.25" width="15.80" height="2.50" fill="#d9631d" />
<text x="228.20" y="642.40" font-size="8.6" fill="#1a1a1a" text-anchor="middle" >97</text>
<rect x="237.85" y="657.87" width="15.80" height="0.83" fill="#119373" />
<rect x="237.85" y="654.12" width="15.80" height="3.74" fill="#6e6aab" />
<rect x="237.85" y="652.32" width="15.80" height="1.80" fill="#d9631d" />
<text x="245.75" y="649.80" font-size="8.6" fill="#1a1a1a" text-anchor="middle" >46</text>
<rect x="255.40" y="656.48" width="15.80" height="2.22" fill="#119373" />
<rect x="255.40" y="653.15" width="15.80" height="3.33" fill="#6e6aab" />
<rect x="255.40" y="653.01" width="15.80" height="0.14" fill="#d9631d" />
<text x="263.30" y="650.50" font-size="8.6" fill="#1a1a1a" text-anchor="middle" >41</text>
<rect x="272.95" y="657.59" width="15.80" height="1.11" fill="#119373" />
<rect x="272.95" y="654.82" width="15.80" height="2.77" fill="#6e6aab" />
<rect x="272.95" y="653.15" width="15.80" height="1.66" fill="#d9631d" />
<text x="280.85" y="650.60" font-size="8.6" fill="#1a1a1a" text-anchor="middle" >40</text>
<rect x="290.50" y="657.59" width="15.80" height="1.11" fill="#119373" />
<rect x="290.50" y="653.29" width="15.80" height="4.30" fill="#6e6aab" />
<rect x="290.50" y="653.15" width="15.80" height="0.14" fill="#d9631d" />
<text x="298.40" y="650.60" font-size="8.6" fill="#1a1a1a" text-anchor="middle" >40</text>
<rect x="308.05" y="658.28" width="15.80" height="0.42" fill="#119373" />
<rect x="308.05" y="654.82" width="15.80" height="3.47" fill="#6e6aab" />
<rect x="308.05" y="653.71" width="15.80" height="1.11" fill="#d9631d" />
<text x="315.95" y="650.90" font-size="8.6" fill="#1a1a1a" text-anchor="middle" >36</text>
<text x="143.40" y="660.65" font-size="9.3" fill="#858585" text-anchor="end" >0</text>
<text x="143.40" y="633.15" font-size="9.3" fill="#858585" text-anchor="end" >200</text>
<text x="143.40" y="605.65" font-size="9.3" fill="#858585" text-anchor="end" >400</text>
<text x="143.40" y="578.15" font-size="9.3" fill="#858585" text-anchor="end" >600</text>
<text x="0" y="0" font-size="9.4" fill="#1a1a1a" text-anchor="middle" transform="translate(117.60 607.00) rotate(-90)">No. of proteins</text>
<text x="256.70" y="594.52" font-size="9.5" fill="#000" text-anchor="middle" font-weight="bold" >PYE1 DDA</text>
<text x="38.50" y="590.58" font-size="9.4" fill="#1a1a1a" >Species</text>
<rect x="39.10" y="597.30" width="3.60" height="6.40" fill="#d9631d" />
<text x="50.90" y="603.88" font-size="9.4" fill="#1a1a1a" >Human</text>
<rect x="39.10" y="610.50" width="3.60" height="6.40" fill="#6e6aab" />
<text x="51.40" y="617.08" font-size="9.4" fill="#1a1a1a" >Yeast</text>
<rect x="39.10" y="623.70" width="3.60" height="6.40" fill="#119373" />
<text x="50.90" y="630.28" font-size="9.4" fill="#1a1a1a" font-style="italic" >E. coli</text>
<text x="7.70" y="564.21" font-size="14.2" fill="#000" font-weight="bold" >c</text>
<rect x="147.50" y="672.20" width="178.50" height="7.60" fill="#ececec" />
<rect x="0.00" y="671.80" width="84.60" height="7.60" fill="#ececec" />
<rect x="147.50" y="690.54" width="178.50" height="7.60" fill="#ececec" />
<rect x="0.00" y="690.18" width="84.60" height="7.60" fill="#ececec" />
<rect x="147.50" y="708.88" width="178.50" height="7.60" fill="#ececec" />
<rect x="0.00" y="708.56" width="84.60" height="7.60" fill="#ececec" />
<rect x="147.50" y="727.22" width="178.50" height="7.60" fill="#ececec" />
<rect x="0.00" y="726.94" width="84.60" height="7.60" fill="#ececec" />
<rect x="147.50" y="745.56" width="178.50" height="7.60" fill="#ececec" />
<rect x="0.00" y="745.32" width="84.60" height="7.60" fill="#ececec" />
<rect x="147.50" y="763.90" width="178.50" height="7.60" fill="#ececec" />
<rect x="0.00" y="763.70" width="84.60" height="7.60" fill="#ececec" />
<rect x="147.50" y="782.24" width="178.50" height="7.60" fill="#ececec" />
<rect x="0.00" y="782.08" width="84.60" height="7.60" fill="#ececec" />
<line x1="53.00" y1="669.60" x2="53.00" y2="801.07" stroke="#e4e4e4" stroke-width="0.6" />
<line x1="25.10" y1="669.60" x2="25.10" y2="801.07" stroke="#e4e4e4" stroke-width="0.6" />
<rect x="4.29" y="672.80" width="76.61" height="5.60" fill="#54585c" />
<text x="143.20" y="679.38" font-size="9.4" fill="#838383" text-anchor="end" >G_nLC_tTOF</text>
<rect x="14.64" y="681.99" width="66.26" height="5.60" fill="#54585c" />
<text x="143.20" y="688.55" font-size="9.4" fill="#838383" text-anchor="end" >H_ulti_ex</text>
<rect x="27.30" y="691.18" width="53.60" height="5.60" fill="#54585c" />
<text x="143.20" y="697.72" font-size="9.4" fill="#838383" text-anchor="end" >F_Vanq_ecl</text>
<rect x="28.31" y="700.37" width="52.59" height="5.60" fill="#54585c" />
<text x="143.20" y="706.89" font-size="9.4" fill="#838383" text-anchor="end" >G_ulti_ex</text>
<rect x="28.45" y="709.56" width="52.45" height="5.60" fill="#54585c" />
<text x="143.20" y="716.06" font-size="9.4" fill="#838383" text-anchor="end" >A_ulti_ex</text>
<rect x="33.47" y="718.75" width="47.43" height="5.60" fill="#54585c" />
<text x="143.20" y="725.23" font-size="9.4" fill="#838383" text-anchor="end" >C_nE_tTOF</text>
<rect x="37.66" y="727.94" width="43.25" height="5.60" fill="#54585c" />
<text x="143.20" y="734.40" font-size="9.4" fill="#838383" text-anchor="end" >H_ulti_ecl</text>
<rect x="37.66" y="737.13" width="43.25" height="5.60" fill="#54585c" />
<text x="143.20" y="743.57" font-size="9.4" fill="#838383" text-anchor="end" >B_ulti_HFX</text>
<rect x="38.49" y="746.32" width="42.41" height="5.60" fill="#54585c" />
<text x="143.20" y="752.74" font-size="9.4" fill="#838383" text-anchor="end" >A_evo_ex</text>
<rect x="39.05" y="755.51" width="41.85" height="5.60" fill="#54585c" />
<text x="143.20" y="761.91" font-size="9.4" fill="#838383" text-anchor="end" >E_Vanq_ex</text>
<rect x="40.72" y="764.70" width="40.18" height="5.60" fill="#54585c" />
<text x="143.20" y="771.08" font-size="9.4" fill="#838383" text-anchor="end" >D_Vanq_ex</text>
<rect x="41.28" y="773.89" width="39.62" height="5.60" fill="#54585c" />
<text x="143.20" y="780.25" font-size="9.4" fill="#838383" text-anchor="end" >E_ulti_lumos</text>
<rect x="43.51" y="783.08" width="37.39" height="5.60" fill="#54585c" />
<text x="143.20" y="789.42" font-size="9.4" fill="#838383" text-anchor="end" >D_ulti_ecl</text>
<rect x="55.23" y="792.27" width="25.67" height="5.60" fill="#54585c" />
<text x="143.20" y="798.59" font-size="9.4" fill="#838383" text-anchor="end" >B_ulti_HF</text>
<line x1="53.00" y1="672.80" x2="53.00" y2="678.40" stroke="#ffffff" stroke-width="0.8" />
<line x1="53.00" y1="681.99" x2="53.00" y2="687.59" stroke="#ffffff" stroke-width="0.8" />
<line x1="53.00" y1="691.18" x2="53.00" y2="696.78" stroke="#ffffff" stroke-width="0.8" />
<line x1="53.00" y1="700.37" x2="53.00" y2="705.97" stroke="#ffffff" stroke-width="0.8" />
<line x1="53.00" y1="709.56" x2="53.00" y2="715.16" stroke="#ffffff" stroke-width="0.8" />
<line x1="53.00" y1="718.75" x2="53.00" y2="724.35" stroke="#ffffff" stroke-width="0.8" />
<line x1="53.00" y1="727.94" x2="53.00" y2="733.54" stroke="#ffffff" stroke-width="0.8" />
<line x1="53.00" y1="737.13" x2="53.00" y2="742.73" stroke="#ffffff" stroke-width="0.8" />
<line x1="53.00" y1="746.32" x2="53.00" y2="751.92" stroke="#ffffff" stroke-width="0.8" />
<line x1="53.00" y1="755.51" x2="53.00" y2="761.11" stroke="#ffffff" stroke-width="0.8" />
<line x1="53.00" y1="764.70" x2="53.00" y2="770.30" stroke="#ffffff" stroke-width="0.8" />
<line x1="53.00" y1="773.89" x2="53.00" y2="779.49" stroke="#ffffff" stroke-width="0.8" />
<line x1="53.00" y1="783.08" x2="53.00" y2="788.68" stroke="#ffffff" stroke-width="0.8" />
<line x1="53.00" y1="792.27" x2="53.00" y2="797.87" stroke="#ffffff" stroke-width="0.8" />
<line x1="25.10" y1="672.80" x2="25.10" y2="678.40" stroke="#ffffff" stroke-width="0.8" />
<line x1="25.10" y1="681.99" x2="25.10" y2="687.59" stroke="#ffffff" stroke-width="0.8" />
<line x1="25.10" y1="691.18" x2="25.10" y2="696.78" stroke="#ffffff" stroke-width="0.8" />
<line x1="25.10" y1="700.37" x2="25.10" y2="705.97" stroke="#ffffff" stroke-width="0.8" />
<line x1="25.10" y1="709.56" x2="25.10" y2="715.16" stroke="#ffffff" stroke-width="0.8" />
<line x1="25.10" y1="718.75" x2="25.10" y2="724.35" stroke="#ffffff" stroke-width="0.8" />
<line x1="25.10" y1="727.94" x2="25.10" y2="733.54" stroke="#ffffff" stroke-width="0.8" />
<line x1="25.10" y1="737.13" x2="25.10" y2="742.73" stroke="#ffffff" stroke-width="0.8" />
<line x1="25.10" y1="746.32" x2="25.10" y2="751.92" stroke="#ffffff" stroke-width="0.8" />
<line x1="25.10" y1="755.51" x2="25.10" y2="761.11" stroke="#ffffff" stroke-width="0.8" />
<line x1="25.10" y1="764.70" x2="25.10" y2="770.30" stroke="#ffffff" stroke-width="0.8" />
<line x1="25.10" y1="773.89" x2="25.10" y2="779.49" stroke="#ffffff" stroke-width="0.8" />
<line x1="25.10" y1="783.08" x2="25.10" y2="788.68" stroke="#ffffff" stroke-width="0.8" />
<line x1="25.10" y1="792.27" x2="25.10" y2="797.87" stroke="#ffffff" stroke-width="0.8" />
<text x="80.90" y="809.25" font-size="9.3" fill="#858585" text-anchor="middle" >0</text>
<text x="53.00" y="809.25" font-size="9.3" fill="#858585" text-anchor="middle" >1000</text>
<text x="25.10" y="809.25" font-size="9.3" fill="#858585" text-anchor="middle" >2000</text>
<text x="44.30" y="822.68" font-size="9.4" fill="#1a1a1a" text-anchor="middle" >No. of proteins</text>
<line x1="158.00" y1="676.00" x2="158.00" y2="795.21" stroke="#000" stroke-width="0.9" />
<ellipse cx="158.00" cy="676.00" rx="1.45" ry="3.4" fill="#000"/>
<ellipse cx="158.00" cy="685.17" rx="1.45" ry="3.4" fill="#000"/>
<ellipse cx="158.00" cy="694.34" rx="1.45" ry="3.4" fill="#000"/>
<ellipse cx="158.00" cy="703.51" rx="1.45" ry="3.4" fill="#000"/>
<ellipse cx="158.00" cy="712.68" rx="1.45" ry="3.4" fill="#000"/>
<ellipse cx="158.00" cy="721.85" rx="1.45" ry="3.4" fill="#000"/>
<ellipse cx="158.00" cy="731.02" rx="1.45" ry="3.4" fill="#000"/>
<ellipse cx="158.00" cy="740.19" rx="1.45" ry="3.4" fill="#000"/>
<ellipse cx="158.00" cy="749.36" rx="1.45" ry="3.4" fill="#000"/>
<ellipse cx="158.00" cy="758.53" rx="1.45" ry="3.4" fill="#000"/>
<ellipse cx="158.00" cy="767.70" rx="1.45" ry="3.4" fill="#000"/>
<ellipse cx="158.00" cy="776.87" rx="1.45" ry="3.4" fill="#000"/>
<ellipse cx="158.00" cy="786.04" rx="1.45" ry="3.4" fill="#000"/>
<ellipse cx="158.00" cy="795.21" rx="1.45" ry="3.4" fill="#000"/>
<ellipse cx="175.55" cy="685.17" rx="1.4" ry="3.3" fill="#d6d6d6"/>
<ellipse cx="175.55" cy="694.34" rx="1.4" ry="3.3" fill="#d6d6d6"/>
<ellipse cx="175.55" cy="703.51" rx="1.4" ry="3.3" fill="#d6d6d6"/>
<ellipse cx="175.55" cy="712.68" rx="1.4" ry="3.3" fill="#d6d6d6"/>
<ellipse cx="175.55" cy="721.85" rx="1.4" ry="3.3" fill="#d6d6d6"/>
<ellipse cx="175.55" cy="731.02" rx="1.4" ry="3.3" fill="#d6d6d6"/>
<ellipse cx="175.55" cy="740.19" rx="1.4" ry="3.3" fill="#d6d6d6"/>
<ellipse cx="175.55" cy="749.36" rx="1.4" ry="3.3" fill="#d6d6d6"/>
<ellipse cx="175.55" cy="758.53" rx="1.4" ry="3.3" fill="#d6d6d6"/>
<ellipse cx="175.55" cy="767.70" rx="1.4" ry="3.3" fill="#d6d6d6"/>
<ellipse cx="175.55" cy="776.87" rx="1.4" ry="3.3" fill="#d6d6d6"/>
<ellipse cx="175.55" cy="786.04" rx="1.4" ry="3.3" fill="#d6d6d6"/>
<ellipse cx="175.55" cy="795.21" rx="1.4" ry="3.3" fill="#d6d6d6"/>
<ellipse cx="175.55" cy="676.00" rx="1.45" ry="3.4" fill="#000"/>
<ellipse cx="193.10" cy="795.21" rx="1.4" ry="3.3" fill="#d6d6d6"/>
<line x1="193.10" y1="676.00" x2="193.10" y2="786.04" stroke="#000" stroke-width="0.9" />
<ellipse cx="193.10" cy="676.00" rx="1.45" ry="3.4" fill="#000"/>
<ellipse cx="193.10" cy="685.17" rx="1.45" ry="3.4" fill="#000"/>
<ellipse cx="193.10" cy="694.34" rx="1.45" ry="3.4" fill="#000"/>
<ellipse cx="193.10" cy="703.51" rx="1.45" ry="3.4" fill="#000"/>
<ellipse cx="193.10" cy="712.68" rx="1.45" ry="3.4" fill="#000"/>
<ellipse cx="193.10" cy="721.85" rx="1.45" ry="3.4" fill="#000"/>
<ellipse cx="193.10" cy="731.02" rx="1.45" ry="3.4" fill="#000"/>
<ellipse cx="193.10" cy="740.19" rx="1.45" ry="3.4" fill="#000"/>
<ellipse cx="193.10" cy="749.36" rx="1.45" ry="3.4" fill="#000"/>
<ellipse cx="193.10" cy="758.53" rx="1.45" ry="3.4" fill="#000"/>
<ellipse cx="193.10" cy="767.70" rx="1.45" ry="3.4" fill="#000"/>
<ellipse cx="193.10" cy="776.87" rx="1.45" ry="3.4" fill="#000"/>
<ellipse cx="193.10" cy="786.04" rx="1.45" ry="3.4" fill="#000"/>
<ellipse cx="210.65" cy="694.34" rx="1.4" ry="3.3" fill="#d6d6d6"/>
<ellipse cx="210.65" cy="703.51" rx="1.4" ry="3.3" fill="#d6d6d6"/>
<ellipse cx="210.65" cy="712.68" rx="1.4" ry="3.3" fill="#d6d6d6"/>
<ellipse cx="210.65" cy="721.85" rx="1.4" ry="3.3" fill="#d6d6d6"/>
<ellipse cx="210.65" cy="731.02" rx="1.4" ry="3.3" fill="#d6d6d6"/>
<ellipse cx="210.65" cy="740.19" rx="1.4" ry="3.3" fill="#d6d6d6"/>
<ellipse cx="210.65" cy="749.36" rx="1.4" ry="3.3" fill="#d6d6d6"/>
<ellipse cx="210.65" cy="758.53" rx="1.4" ry="3.3" fill="#d6d6d6"/>
<ellipse cx="210.65" cy="767.70" rx="1.4" ry="3.3" fill="#d6d6d6"/>
<ellipse cx="210.65" cy="776.87" rx="1.4" ry="3.3" fill="#d6d6d6"/>
<ellipse cx="210.65" cy="786.04" rx="1.4" ry="3.3" fill="#d6d6d6"/>
<ellipse cx="210.65" cy="795.21" rx="1.4" ry="3.3" fill="#d6d6d6"/>
<line x1="210.65" y1="676.00" x2="210.65" y2="685.17" stroke="#000" stroke-width="0.9" />
<ellipse cx="210.65" cy="676.00" rx="1.45" ry="3.4" fill="#000"/>
<ellipse cx="210.65" cy="685.17" rx="1.45" ry="3.4" fill="#000"/>
<ellipse cx="228.20" cy="676.00" rx="1.4" ry="3.3" fill="#d6d6d6"/>
<ellipse cx="228.20" cy="694.34" rx="1.4" ry="3.3" fill="#d6d6d6"/>
<ellipse cx="228.20" cy="703.51" rx="1.4" ry="3.3" fill="#d6d6d6"/>
<ellipse cx="228.20" cy="712.68" rx="1.4" ry="3.3" fill="#d6d6d6"/>
<ellipse cx="228.20" cy="721.85" rx="1.4" ry="3.3" fill="#d6d6d6"/>
<ellipse cx="228.20" cy="731.02" rx="1.4" ry="3.3" fill="#d6d6d6"/>
<ellipse cx="228.20" cy="740.19" rx="1.4" ry="3.3" fill="#d6d6d6"/>
<ellipse cx="228.20" cy="749.36" rx="1.4" ry="3.3" fill="#d6d6d6"/>
<ellipse cx="228.20" cy="758.53" rx="1.4" ry="3.3" fill="#d6d6d6"/>
<ellipse cx="228.20" cy="767.70" rx="1.4" ry="3.3" fill="#d6d6d6"/>
<ellipse cx="228.20" cy="776.87" rx="1.4" ry="3.3" fill="#d6d6d6"/>
<ellipse cx="228.20" cy="786.04" rx="1.4" ry="3.3" fill="#d6d6d6"/>
<ellipse cx="228.20" cy="795.21" rx="1.4" ry="3.3" fill="#d6d6d6"/>
<ellipse cx="228.20" cy="685.17" rx="1.45" ry="3.4" fill="#000"/>
<ellipse cx="245.75" cy="676.00" rx="1.4" ry="3.3" fill="#d6d6d6"/>
<ellipse cx="245.75" cy="694.34" rx="1.4" ry="3.3" fill="#d6d6d6"/>
<ellipse cx="245.75" cy="703.51" rx="1.4" ry="3.3" fill="#d6d6d6"/>
<ellipse cx="245.75" cy="712.68" rx="1.4" ry="3.3" fill="#d6d6d6"/>
<ellipse cx="245.75" cy="721.85" rx="1.4" ry="3.3" fill="#d6d6d6"/>
<ellipse cx="245.75" cy="749.36" rx="1.4" ry="3.3" fill="#d6d6d6"/>
<ellipse cx="245.75" cy="758.53" rx="1.4" ry="3.3" fill="#d6d6d6"/>
<ellipse cx="245.75" cy="767.70" rx="1.4" ry="3.3" fill="#d6d6d6"/>
<ellipse cx="245.75" cy="776.87" rx="1.4" ry="3.3" fill="#d6d6d6"/>
<ellipse cx="245.75" cy="786.04" rx="1.4" ry="3.3" fill="#d6d6d6"/>
<ellipse cx="245.75" cy="795.21" rx="1.4" ry="3.3" fill="#d6d6d6"/>
<line x1="245.75" y1="685.17" x2="245.75" y2="740.19" stroke="#000" stroke-width="0.9" />
<ellipse cx="245.75" cy="685.17" rx="1.45" ry="3.4" fill="#000"/>
<ellipse cx="245.75" cy="731.02" rx="1.45" ry="3.4" fill="#000"/>
<ellipse cx="245.75" cy="740.19" rx="1.45" ry="3.4" fill="#000"/>
<ellipse cx="263.30" cy="694.34" rx="1.4" ry="3.3" fill="#d6d6d6"/>
<ellipse cx="263.30" cy="712.68" rx="1.4" ry="3.3" fill="#d6d6d6"/>
<ellipse cx="263.30" cy="721.85" rx="1.4" ry="3.3" fill="#d6d6d6"/>
<ellipse cx="263.30" cy="731.02" rx="1.4" ry="3.3" fill="#d6d6d6"/>
<ellipse cx="263.30" cy="740.19" rx="1.4" ry="3.3" fill="#d6d6d6"/>
<ellipse cx="263.30" cy="749.36" rx="1.4" ry="3.3" fill="#d6d6d6"/>
<ellipse cx="263.30" cy="758.53" rx="1.4" ry="3.3" fill="#d6d6d6"/>
<ellipse cx="263.30" cy="767.70" rx="1.4" ry="3.3" fill="#d6d6d6"/>
<ellipse cx="263.30" cy="776.87" rx="1.4" ry="3.3" fill="#d6d6d6"/>
<ellipse cx="263.30" cy="786.04" rx="1.4" ry="3.3" fill="#d6d6d6"/>
<ellipse cx="263.30" cy="795.21" rx="1.4" ry="3.3" fill="#d6d6d6"/>
<line x1="263.30" y1="676.00" x2="263.30" y2="703.51" stroke="#000" stroke-width="0.9" />
<ellipse cx="263.30" cy="676.00" rx="1.45" ry="3.4" fill="#000"/>
<ellipse cx="263.30" cy="685.17" rx="1.45" ry="3.4" fill="#000"/>
<ellipse cx="263.30" cy="703.51" rx="1.45" ry="3.4" fill="#000"/>
<ellipse cx="280.85" cy="676.00" rx="1.4" ry="3.3" fill="#d6d6d6"/>
<ellipse cx="280.85" cy="685.17" rx="1.4" ry="3.3" fill="#d6d6d6"/>
<ellipse cx="280.85" cy="694.34" rx="1.4" ry="3.3" fill="#d6d6d6"/>
<ellipse cx="280.85" cy="712.68" rx="1.4" ry="3.3" fill="#d6d6d6"/>
<ellipse cx="280.85" cy="721.85" rx="1.4" ry="3.3" fill="#d6d6d6"/>
<ellipse cx="280.85" cy="731.02" rx="1.4" ry="3.3" fill="#d6d6d6"/>
<ellipse cx="280.85" cy="740.19" rx="1.4" ry="3.3" fill="#d6d6d6"/>
<ellipse cx="280.85" cy="749.36" rx="1.4" ry="3.3" fill="#d6d6d6"/>
<ellipse cx="280.85" cy="758.53" rx="1.4" ry="3.3" fill="#d6d6d6"/>
<ellipse cx="280.85" cy="767.70" rx="1.4" ry="3.3" fill="#d6d6d6"/>
<ellipse cx="280.85" cy="776.87" rx="1.4" ry="3.3" fill="#d6d6d6"/>
<ellipse cx="280.85" cy="786.04" rx="1.4" ry="3.3" fill="#d6d6d6"/>
<ellipse cx="280.85" cy="795.21" rx="1.4" ry="3.3" fill="#d6d6d6"/>
<ellipse cx="280.85" cy="703.51" rx="1.45" ry="3.4" fill="#000"/>
<ellipse cx="298.40" cy="703.51" rx="1.4" ry="3.3" fill="#d6d6d6"/>
<ellipse cx="298.40" cy="712.68" rx="1.4" ry="3.3" fill="#d6d6d6"/>
<ellipse cx="298.40" cy="721.85" rx="1.4" ry="3.3" fill="#d6d6d6"/>
<ellipse cx="298.40" cy="731.02" rx="1.4" ry="3.3" fill="#d6d6d6"/>
<ellipse cx="298.40" cy="740.19" rx="1.4" ry="3.3" fill="#d6d6d6"/>
<ellipse cx="298.40" cy="749.36" rx="1.4" ry="3.3" fill="#d6d6d6"/>
<ellipse cx="298.40" cy="758.53" rx="1.4" ry="3.3" fill="#d6d6d6"/>
<ellipse cx="298.40" cy="767.70" rx="1.4" ry="3.3" fill="#d6d6d6"/>
<ellipse cx="298.40" cy="776.87" rx="1.4" ry="3.3" fill="#d6d6d6"/>
<ellipse cx="298.40" cy="786.04" rx="1.4" ry="3.3" fill="#d6d6d6"/>
<ellipse cx="298.40" cy="795.21" rx="1.4" ry="3.3" fill="#d6d6d6"/>
<line x1="298.40" y1="676.00" x2="298.40" y2="694.34" stroke="#000" stroke-width="0.9" />
<ellipse cx="298.40" cy="676.00" rx="1.45" ry="3.4" fill="#000"/>
<ellipse cx="298.40" cy="685.17" rx="1.45" ry="3.4" fill="#000"/>
<ellipse cx="298.40" cy="694.34" rx="1.45" ry="3.4" fill="#000"/>
<ellipse cx="315.95" cy="676.00" rx="1.4" ry="3.3" fill="#d6d6d6"/>
<ellipse cx="315.95" cy="685.17" rx="1.4" ry="3.3" fill="#d6d6d6"/>
<ellipse cx="315.95" cy="703.51" rx="1.4" ry="3.3" fill="#d6d6d6"/>
<ellipse cx="315.95" cy="712.68" rx="1.4" ry="3.3" fill="#d6d6d6"/>
<ellipse cx="315.95" cy="721.85" rx="1.4" ry="3.3" fill="#d6d6d6"/>
<ellipse cx="315.95" cy="731.02" rx="1.4" ry="3.3" fill="#d6d6d6"/>
<ellipse cx="315.95" cy="740.19" rx="1.4" ry="3.3" fill="#d6d6d6"/>
<ellipse cx="315.95" cy="749.36" rx="1.4" ry="3.3" fill="#d6d6d6"/>
<ellipse cx="315.95" cy="758.53" rx="1.4" ry="3.3" fill="#d6d6d6"/>
<ellipse cx="315.95" cy="767.70" rx="1.4" ry="3.3" fill="#d6d6d6"/>
<ellipse cx="315.95" cy="776.87" rx="1.4" ry="3.3" fill="#d6d6d6"/>
<ellipse cx="315.95" cy="786.04" rx="1.4" ry="3.3" fill="#d6d6d6"/>
<ellipse cx="315.95" cy="795.21" rx="1.4" ry="3.3" fill="#d6d6d6"/>
<ellipse cx="315.95" cy="694.34" rx="1.45" ry="3.4" fill="#000"/>
<line x1="509.20" y1="656.10" x2="685.00" y2="656.10" stroke="#ececec" stroke-width="0.6" />
<line x1="509.20" y1="643.33" x2="685.00" y2="643.33" stroke="#ececec" stroke-width="0.6" />
<line x1="509.20" y1="630.55" x2="685.00" y2="630.55" stroke="#ececec" stroke-width="0.6" />
<line x1="509.20" y1="617.77" x2="685.00" y2="617.77" stroke="#ececec" stroke-width="0.6" />
<line x1="509.20" y1="605.00" x2="685.00" y2="605.00" stroke="#ececec" stroke-width="0.6" />
<line x1="509.20" y1="592.23" x2="685.00" y2="592.23" stroke="#ececec" stroke-width="0.6" />
<line x1="509.20" y1="579.45" x2="685.00" y2="579.45" stroke="#ececec" stroke-width="0.6" />
<line x1="509.20" y1="566.68" x2="685.00" y2="566.68" stroke="#ececec" stroke-width="0.6" />
<line x1="518.90" y1="559.00" x2="518.90" y2="659.10" stroke="#ececec" stroke-width="0.6" />
<line x1="536.25" y1="559.00" x2="536.25" y2="659.10" stroke="#ececec" stroke-width="0.6" />
<line x1="553.60" y1="559.00" x2="553.60" y2="659.10" stroke="#ececec" stroke-width="0.6" />
<line x1="570.95" y1="559.00" x2="570.95" y2="659.10" stroke="#ececec" stroke-width="0.6" />
<line x1="588.30" y1="559.00" x2="588.30" y2="659.10" stroke="#ececec" stroke-width="0.6" />
<line x1="605.65" y1="559.00" x2="605.65" y2="659.10" stroke="#ececec" stroke-width="0.6" />
<line x1="623.00" y1="559.00" x2="623.00" y2="659.10" stroke="#ececec" stroke-width="0.6" />
<line x1="640.35" y1="559.00" x2="640.35" y2="659.10" stroke="#ececec" stroke-width="0.6" />
<line x1="657.70" y1="559.00" x2="657.70" y2="659.10" stroke="#ececec" stroke-width="0.6" />
<line x1="675.05" y1="559.00" x2="675.05" y2="659.10" stroke="#ececec" stroke-width="0.6" />
<rect x="511.20" y="611.03" width="15.40" height="45.07" fill="#119373" />
<rect x="511.20" y="576.28" width="15.40" height="34.75" fill="#6e6aab" />
<rect x="511.20" y="561.26" width="15.40" height="15.02" fill="#d9631d" />
<text x="518.90" y="556.87" font-size="8.8" fill="#666666" text-anchor="middle" >928</text>
<rect x="528.55" y="646.90" width="15.40" height="9.20" fill="#119373" />
<rect x="528.55" y="616.34" width="15.40" height="30.56" fill="#6e6aab" />
<rect x="528.55" y="616.34" width="15.40" height="0.00" fill="#d9631d" />
<text x="536.25" y="611.47" font-size="8.8" fill="#666666" text-anchor="middle" >389</text>
<rect x="545.90" y="648.84" width="15.40" height="7.26" fill="#119373" />
<rect x="545.90" y="634.13" width="15.40" height="14.72" fill="#6e6aab" />
<rect x="545.90" y="633.31" width="15.40" height="0.82" fill="#d9631d" />
<text x="553.60" y="628.27" font-size="8.8" fill="#666666" text-anchor="middle" >223</text>
<rect x="563.25" y="656.10" width="15.40" height="0.00" fill="#119373" />
<rect x="563.25" y="656.10" width="15.40" height="0.00" fill="#6e6aab" />
<rect x="563.25" y="640.67" width="15.40" height="15.43" fill="#d9631d" />
<text x="570.95" y="633.87" font-size="8.8" fill="#666666" text-anchor="middle" >151</text>
<rect x="580.60" y="652.01" width="15.40" height="4.09" fill="#119373" />
<rect x="580.60" y="645.47" width="15.40" height="6.54" fill="#6e6aab" />
<rect x="580.60" y="641.28" width="15.40" height="4.19" fill="#d9631d" />
<text x="588.30" y="637.47" font-size="8.8" fill="#666666" text-anchor="middle" >145</text>
<rect x="597.95" y="652.52" width="15.40" height="3.58" fill="#119373" />
<rect x="597.95" y="645.57" width="15.40" height="6.95" fill="#6e6aab" />
<rect x="597.95" y="642.61" width="15.40" height="2.96" fill="#d9631d" />
<text x="605.65" y="639.37" font-size="8.8" fill="#666666" text-anchor="middle" >132</text>
<rect x="615.30" y="647.62" width="15.40" height="8.48" fill="#119373" />
<rect x="615.30" y="645.88" width="15.40" height="1.74" fill="#6e6aab" />
<rect x="615.30" y="643.63" width="15.40" height="2.25" fill="#d9631d" />
<text x="623.00" y="641.87" font-size="8.8" fill="#666666" text-anchor="middle" >122</text>
<rect x="632.65" y="652.32" width="15.40" height="3.78" fill="#119373" />
<rect x="632.65" y="645.47" width="15.40" height="6.85" fill="#6e6aab" />
<rect x="632.65" y="645.47" width="15.40" height="0.00" fill="#d9631d" />
<text x="640.35" y="642.87" font-size="8.8" fill="#666666" text-anchor="middle" >104</text>
<rect x="650.00" y="653.85" width="15.40" height="2.25" fill="#119373" />
<rect x="650.00" y="649.15" width="15.40" height="4.70" fill="#6e6aab" />
<rect x="650.00" y="647.31" width="15.40" height="1.84" fill="#d9631d" />
<text x="657.70" y="645.77" font-size="8.8" fill="#666666" text-anchor="middle" >86</text>
<rect x="667.35" y="652.11" width="15.40" height="3.99" fill="#119373" />
<rect x="667.35" y="647.82" width="15.40" height="4.29" fill="#6e6aab" />
<rect x="667.35" y="647.82" width="15.40" height="0.00" fill="#d9631d" />
<text x="675.05" y="645.77" font-size="8.8" fill="#666666" text-anchor="middle" >81</text>
<text x="506.10" y="658.35" font-size="9.3" fill="#858585" text-anchor="end" >0</text>
<text x="507.00" y="632.77" font-size="9.3" fill="#858585" text-anchor="end" >250</text>
<text x="503.20" y="607.20" font-size="9.3" fill="#858585" text-anchor="end" >500</text>
<text x="502.70" y="581.62" font-size="9.3" fill="#858585" text-anchor="end" >750</text>
<text x="0" y="0" font-size="9.4" fill="#1a1a1a" text-anchor="middle" transform="translate(474.40 613.60) rotate(-90)">No. of proteins</text>
<text x="614.00" y="594.72" font-size="9.5" fill="#000" text-anchor="middle" font-weight="bold" >PYE1 DIA</text>
<text x="385.50" y="590.18" font-size="9.4" fill="#1a1a1a" >Species</text>
<rect x="386.10" y="596.90" width="3.60" height="6.40" fill="#d9631d" />
<text x="397.90" y="603.48" font-size="9.4" fill="#1a1a1a" >Human</text>
<rect x="386.10" y="610.10" width="3.60" height="6.40" fill="#6e6aab" />
<text x="398.40" y="616.68" font-size="9.4" fill="#1a1a1a" >Yeast</text>
<rect x="386.10" y="623.30" width="3.60" height="6.40" fill="#119373" />
<text x="397.90" y="629.88" font-size="9.4" fill="#1a1a1a" font-style="italic" >E. coli</text>
<text x="348.80" y="563.91" font-size="14.2" fill="#000" font-weight="bold" >d</text>
<rect x="508.70" y="670.10" width="176.30" height="7.80" fill="#ececec" />
<rect x="348.00" y="672.80" width="83.20" height="7.80" fill="#ececec" />
<rect x="508.70" y="688.24" width="176.30" height="7.80" fill="#ececec" />
<rect x="348.00" y="690.90" width="83.20" height="7.80" fill="#ececec" />
<rect x="508.70" y="706.38" width="176.30" height="7.80" fill="#ececec" />
<rect x="348.00" y="709.00" width="83.20" height="7.80" fill="#ececec" />
<rect x="508.70" y="724.52" width="176.30" height="7.80" fill="#ececec" />
<rect x="348.00" y="727.10" width="83.20" height="7.80" fill="#ececec" />
<rect x="508.70" y="742.66" width="176.30" height="7.80" fill="#ececec" />
<rect x="348.00" y="745.20" width="83.20" height="7.80" fill="#ececec" />
<rect x="508.70" y="760.80" width="176.30" height="7.80" fill="#ececec" />
<rect x="348.00" y="763.30" width="83.20" height="7.80" fill="#ececec" />
<rect x="508.70" y="778.94" width="176.30" height="7.80" fill="#ececec" />
<rect x="348.00" y="781.40" width="83.20" height="7.80" fill="#ececec" />
<rect x="508.70" y="797.08" width="176.30" height="7.80" fill="#ececec" />
<rect x="348.00" y="799.50" width="83.20" height="7.80" fill="#ececec" />
<rect x="508.70" y="815.22" width="176.30" height="7.80" fill="#ececec" />
<rect x="348.00" y="817.60" width="83.20" height="7.80" fill="#ececec" />
<rect x="508.70" y="833.36" width="176.30" height="7.80" fill="#ececec" />
<rect x="348.00" y="835.70" width="83.20" height="7.80" fill="#ececec" />
<line x1="394.86" y1="670.70" x2="394.86" y2="854.65" stroke="#e4e4e4" stroke-width="0.6" />
<line x1="362.52" y1="670.70" x2="362.52" y2="854.65" stroke="#e4e4e4" stroke-width="0.6" />
<rect x="351.85" y="674.05" width="75.35" height="5.30" fill="#54585c" />
<text x="505.00" y="677.38" font-size="9.4" fill="#838383" text-anchor="end" >H_ulti_ex</text>
<rect x="353.95" y="683.10" width="73.25" height="5.30" fill="#54585c" />
<text x="505.00" y="686.45" font-size="9.4" fill="#838383" text-anchor="end" >G_nLC_tTOF</text>
<rect x="353.95" y="692.15" width="73.25" height="5.30" fill="#54585c" />
<text x="505.00" y="695.52" font-size="9.4" fill="#838383" text-anchor="end" >H_ulti_ecl</text>
<rect x="356.38" y="701.20" width="70.82" height="5.30" fill="#54585c" />
<text x="505.00" y="704.59" font-size="9.4" fill="#838383" text-anchor="end" >I_nLC_ex</text>
<rect x="360.90" y="710.25" width="66.30" height="5.30" fill="#54585c" />
<text x="505.00" y="713.66" font-size="9.4" fill="#838383" text-anchor="end" >A_ulti_ex</text>
<rect x="366.08" y="719.30" width="61.12" height="5.30" fill="#54585c" />
<text x="505.00" y="722.73" font-size="9.4" fill="#838383" text-anchor="end" >G_ulti_ex</text>
<rect x="367.05" y="728.35" width="60.15" height="5.30" fill="#54585c" />
<text x="505.00" y="731.80" font-size="9.4" fill="#838383" text-anchor="end" >E_ulti_lumos</text>
<rect x="368.66" y="737.40" width="58.54" height="5.30" fill="#54585c" />
<text x="505.00" y="740.87" font-size="9.4" fill="#838383" text-anchor="end" >K_Mclass_zTOF</text>
<rect x="372.71" y="746.45" width="54.49" height="5.30" fill="#54585c" />
<text x="505.00" y="749.94" font-size="9.4" fill="#838383" text-anchor="end" >C_nE_tTOF</text>
<rect x="372.87" y="755.50" width="54.33" height="5.30" fill="#54585c" />
<text x="505.00" y="759.01" font-size="9.4" fill="#838383" text-anchor="end" >D_ulti_ecl</text>
<rect x="374.00" y="764.55" width="53.20" height="5.30" fill="#54585c" />
<text x="505.00" y="768.08" font-size="9.4" fill="#838383" text-anchor="end" >A_evo_ex</text>
<rect x="374.49" y="773.60" width="52.71" height="5.30" fill="#54585c" />
<text x="505.00" y="777.15" font-size="9.4" fill="#838383" text-anchor="end" >J_nLC_tTOF</text>
<rect x="381.12" y="782.65" width="46.08" height="5.30" fill="#54585c" />
<text x="505.00" y="786.22" font-size="9.4" fill="#838383" text-anchor="end" >L_nE_tTOF</text>
<rect x="383.86" y="791.70" width="43.34" height="5.30" fill="#54585c" />
<text x="505.00" y="795.29" font-size="9.4" fill="#838383" text-anchor="end" >B_ulti_HFX</text>
<rect x="387.10" y="800.75" width="40.10" height="5.30" fill="#54585c" />
<text x="505.00" y="804.36" font-size="9.4" fill="#838383" text-anchor="end" >D_Vanq_ex</text>
<rect x="389.69" y="809.80" width="37.51" height="5.30" fill="#54585c" />
<text x="505.00" y="813.43" font-size="9.4" fill="#838383" text-anchor="end" >E_Vanq_ex</text>
<rect x="391.30" y="818.85" width="35.90" height="5.30" fill="#54585c" />
<text x="505.00" y="822.50" font-size="9.4" fill="#838383" text-anchor="end" >B_ulti_HF</text>
<rect x="394.86" y="827.90" width="32.34" height="5.30" fill="#54585c" />
<text x="505.00" y="831.57" font-size="9.4" fill="#838383" text-anchor="end" >L_ulti_ex_FAIMS</text>
<rect x="403.11" y="836.95" width="24.09" height="5.30" fill="#54585c" />
<text x="505.00" y="840.64" font-size="9.4" fill="#838383" text-anchor="end" >L_ulti_ex</text>
<rect x="404.40" y="846.00" width="22.80" height="5.30" fill="#54585c" />
<text x="505.00" y="849.71" font-size="9.4" fill="#838383" text-anchor="end" >L_nAcqu_tTOF</text>
<line x1="394.86" y1="674.05" x2="394.86" y2="679.35" stroke="#ffffff" stroke-width="0.8" />
<line x1="394.86" y1="683.10" x2="394.86" y2="688.40" stroke="#ffffff" stroke-width="0.8" />
<line x1="394.86" y1="692.15" x2="394.86" y2="697.45" stroke="#ffffff" stroke-width="0.8" />
<line x1="394.86" y1="701.20" x2="394.86" y2="706.50" stroke="#ffffff" stroke-width="0.8" />
<line x1="394.86" y1="710.25" x2="394.86" y2="715.55" stroke="#ffffff" stroke-width="0.8" />
<line x1="394.86" y1="719.30" x2="394.86" y2="724.60" stroke="#ffffff" stroke-width="0.8" />
<line x1="394.86" y1="728.35" x2="394.86" y2="733.65" stroke="#ffffff" stroke-width="0.8" />
<line x1="394.86" y1="737.40" x2="394.86" y2="742.70" stroke="#ffffff" stroke-width="0.8" />
<line x1="394.86" y1="746.45" x2="394.86" y2="751.75" stroke="#ffffff" stroke-width="0.8" />
<line x1="394.86" y1="755.50" x2="394.86" y2="760.80" stroke="#ffffff" stroke-width="0.8" />
<line x1="394.86" y1="764.55" x2="394.86" y2="769.85" stroke="#ffffff" stroke-width="0.8" />
<line x1="394.86" y1="773.60" x2="394.86" y2="778.90" stroke="#ffffff" stroke-width="0.8" />
<line x1="394.86" y1="782.65" x2="394.86" y2="787.95" stroke="#ffffff" stroke-width="0.8" />
<line x1="394.86" y1="791.70" x2="394.86" y2="797.00" stroke="#ffffff" stroke-width="0.8" />
<line x1="394.86" y1="800.75" x2="394.86" y2="806.05" stroke="#ffffff" stroke-width="0.8" />
<line x1="394.86" y1="809.80" x2="394.86" y2="815.10" stroke="#ffffff" stroke-width="0.8" />
<line x1="394.86" y1="818.85" x2="394.86" y2="824.15" stroke="#ffffff" stroke-width="0.8" />
<line x1="394.86" y1="827.90" x2="394.86" y2="833.20" stroke="#ffffff" stroke-width="0.8" />
<line x1="394.86" y1="836.95" x2="394.86" y2="842.25" stroke="#ffffff" stroke-width="0.8" />
<line x1="394.86" y1="846.00" x2="394.86" y2="851.30" stroke="#ffffff" stroke-width="0.8" />
<line x1="362.52" y1="674.05" x2="362.52" y2="679.35" stroke="#ffffff" stroke-width="0.8" />
<line x1="362.52" y1="683.10" x2="362.52" y2="688.40" stroke="#ffffff" stroke-width="0.8" />
<line x1="362.52" y1="692.15" x2="362.52" y2="697.45" stroke="#ffffff" stroke-width="0.8" />
<line x1="362.52" y1="701.20" x2="362.52" y2="706.50" stroke="#ffffff" stroke-width="0.8" />
<line x1="362.52" y1="710.25" x2="362.52" y2="715.55" stroke="#ffffff" stroke-width="0.8" />
<line x1="362.52" y1="719.30" x2="362.52" y2="724.60" stroke="#ffffff" stroke-width="0.8" />
<line x1="362.52" y1="728.35" x2="362.52" y2="733.65" stroke="#ffffff" stroke-width="0.8" />
<line x1="362.52" y1="737.40" x2="362.52" y2="742.70" stroke="#ffffff" stroke-width="0.8" />
<line x1="362.52" y1="746.45" x2="362.52" y2="751.75" stroke="#ffffff" stroke-width="0.8" />
<line x1="362.52" y1="755.50" x2="362.52" y2="760.80" stroke="#ffffff" stroke-width="0.8" />
<line x1="362.52" y1="764.55" x2="362.52" y2="769.85" stroke="#ffffff" stroke-width="0.8" />
<line x1="362.52" y1="773.60" x2="362.52" y2="778.90" stroke="#ffffff" stroke-width="0.8" />
<line x1="362.52" y1="782.65" x2="362.52" y2="787.95" stroke="#ffffff" stroke-width="0.8" />
<line x1="362.52" y1="791.70" x2="362.52" y2="797.00" stroke="#ffffff" stroke-width="0.8" />
<line x1="362.52" y1="800.75" x2="362.52" y2="806.05" stroke="#ffffff" stroke-width="0.8" />
<line x1="362.52" y1="809.80" x2="362.52" y2="815.10" stroke="#ffffff" stroke-width="0.8" />
<line x1="362.52" y1="818.85" x2="362.52" y2="824.15" stroke="#ffffff" stroke-width="0.8" />
<line x1="362.52" y1="827.90" x2="362.52" y2="833.20" stroke="#ffffff" stroke-width="0.8" />
<line x1="362.52" y1="836.95" x2="362.52" y2="842.25" stroke="#ffffff" stroke-width="0.8" />
<line x1="362.52" y1="846.00" x2="362.52" y2="851.30" stroke="#ffffff" stroke-width="0.8" />
<text x="427.20" y="864.95" font-size="9.3" fill="#858585" text-anchor="middle" >0</text>
<text x="394.86" y="864.95" font-size="9.3" fill="#858585" text-anchor="middle" >2000</text>
<text x="362.52" y="864.95" font-size="9.3" fill="#858585" text-anchor="middle" >4000</text>
<text x="391.80" y="877.48" font-size="9.4" fill="#1a1a1a" text-anchor="middle" >No. of proteins</text>
<line x1="518.90" y1="674.00" x2="518.90" y2="846.33" stroke="#000" stroke-width="0.9" />
<ellipse cx="518.90" cy="674.00" rx="1.45" ry="3.4" fill="#000"/>
<ellipse cx="518.90" cy="683.07" rx="1.45" ry="3.4" fill="#000"/>
<ellipse cx="518.90" cy="692.14" rx="1.45" ry="3.4" fill="#000"/>
<ellipse cx="518.90" cy="701.21" rx="1.45" ry="3.4" fill="#000"/>
<ellipse cx="518.90" cy="710.28" rx="1.45" ry="3.4" fill="#000"/>
<ellipse cx="518.90" cy="719.35" rx="1.45" ry="3.4" fill="#000"/>
<ellipse cx="518.90" cy="728.42" rx="1.45" ry="3.4" fill="#000"/>
<ellipse cx="518.90" cy="737.49" rx="1.45" ry="3.4" fill="#000"/>
<ellipse cx="518.90" cy="746.56" rx="1.45" ry="3.4" fill="#000"/>
<ellipse cx="518.90" cy="755.63" rx="1.45" ry="3.4" fill="#000"/>
<ellipse cx="518.90" cy="764.70" rx="1.45" ry="3.4" fill="#000"/>
<ellipse cx="518.90" cy="773.77" rx="1.45" ry="3.4" fill="#000"/>
<ellipse cx="518.90" cy="782.84" rx="1.45" ry="3.4" fill="#000"/>
<ellipse cx="518.90" cy="791.91" rx="1.45" ry="3.4" fill="#000"/>
<ellipse cx="518.90" cy="800.98" rx="1.45" ry="3.4" fill="#000"/>
<ellipse cx="518.90" cy="810.05" rx="1.45" ry="3.4" fill="#000"/>
<ellipse cx="518.90" cy="819.12" rx="1.45" ry="3.4" fill="#000"/>
<ellipse cx="518.90" cy="828.19" rx="1.45" ry="3.4" fill="#000"/>
<ellipse cx="518.90" cy="837.26" rx="1.45" ry="3.4" fill="#000"/>
<ellipse cx="518.90" cy="846.33" rx="1.45" ry="3.4" fill="#000"/>
<ellipse cx="536.25" cy="837.26" rx="1.4" ry="3.3" fill="#d6d6d6"/>
<ellipse cx="536.25" cy="846.33" rx="1.4" ry="3.3" fill="#d6d6d6"/>
<line x1="536.25" y1="674.00" x2="536.25" y2="828.19" stroke="#000" stroke-width="0.9" />
<ellipse cx="536.25" cy="674.00" rx="1.45" ry="3.4" fill="#000"/>
<ellipse cx="536.25" cy="683.07" rx="1.45" ry="3.4" fill="#000"/>
<ellipse cx="536.25" cy="692.14" rx="1.45" ry="3.4" fill="#000"/>
<ellipse cx="536.25" cy="701.21" rx="1.45" ry="3.4" fill="#000"/>
<ellipse cx="536.25" cy="710.28" rx="1.45" ry="3.4" fill="#000"/>
<ellipse cx="536.25" cy="719.35" rx="1.45" ry="3.4" fill="#000"/>
<ellipse cx="536.25" cy="728.42" rx="1.45" ry="3.4" fill="#000"/>
<ellipse cx="536.25" cy="737.49" rx="1.45" ry="3.4" fill="#000"/>
<ellipse cx="536.25" cy="746.56" rx="1.45" ry="3.4" fill="#000"/>
<ellipse cx="536.25" cy="755.63" rx="1.45" ry="3.4" fill="#000"/>
<ellipse cx="536.25" cy="764.70" rx="1.45" ry="3.4" fill="#000"/>
<ellipse cx="536.25" cy="773.77" rx="1.45" ry="3.4" fill="#000"/>
<ellipse cx="536.25" cy="782.84" rx="1.45" ry="3.4" fill="#000"/>
<ellipse cx="536.25" cy="791.91" rx="1.45" ry="3.4" fill="#000"/>
<ellipse cx="536.25" cy="800.98" rx="1.45" ry="3.4" fill="#000"/>
<ellipse cx="536.25" cy="810.05" rx="1.45" ry="3.4" fill="#000"/>
<ellipse cx="536.25" cy="819.12" rx="1.45" ry="3.4" fill="#000"/>
<ellipse cx="536.25" cy="828.19" rx="1.45" ry="3.4" fill="#000"/>
<ellipse cx="553.60" cy="828.19" rx="1.4" ry="3.3" fill="#d6d6d6"/>
<ellipse cx="553.60" cy="837.26" rx="1.4" ry="3.3" fill="#d6d6d6"/>
<ellipse cx="553.60" cy="846.33" rx="1.4" ry="3.3" fill="#d6d6d6"/>
<line x1="553.60" y1="674.00" x2="553.60" y2="819.12" stroke="#000" stroke-width="0.9" />
<ellipse cx="553.60" cy="674.00" rx="1.45" ry="3.4" fill="#000"/>
<ellipse cx="553.60" cy="683.07" rx="1.45" ry="3.4" fill="#000"/>
<ellipse cx="553.60" cy="692.14" rx="1.45" ry="3.4" fill="#000"/>
<ellipse cx="553.60" cy="701.21" rx="1.45" ry="3.4" fill="#000"/>
<ellipse cx="553.60" cy="710.28" rx="1.45" ry="3.4" fill="#000"/>
<ellipse cx="553.60" cy="719.35" rx="1.45" ry="3.4" fill="#000"/>
<ellipse cx="553.60" cy="728.42" rx="1.45" ry="3.4" fill="#000"/>
<ellipse cx="553.60" cy="737.49" rx="1.45" ry="3.4" fill="#000"/>
<ellipse cx="553.60" cy="746.56" rx="1.45" ry="3.4" fill="#000"/>
<ellipse cx="553.60" cy="755.63" rx="1.45" ry="3.4" fill="#000"/>
<ellipse cx="553.60" cy="764.70" rx="1.45" ry="3.4" fill="#000"/>
<ellipse cx="553.60" cy="773.77" rx="1.45" ry="3.4" fill="#000"/>
<ellipse cx="553.60" cy="782.84" rx="1.45" ry="3.4" fill="#000"/>
<ellipse cx="553.60" cy="791.91" rx="1.45" ry="3.4" fill="#000"/>
<ellipse cx="553.60" cy="800.98" rx="1.45" ry="3.4" fill="#000"/>
<ellipse cx="553.60" cy="810.05" rx="1.45" ry="3.4" fill="#000"/>
<ellipse cx="553.60" cy="819.12" rx="1.45" ry="3.4" fill="#000"/>
<ellipse cx="570.95" cy="674.00" rx="1.4" ry="3.3" fill="#d6d6d6"/>
<ellipse cx="570.95" cy="683.07" rx="1.4" ry="3.3" fill="#d6d6d6"/>
<ellipse cx="570.95" cy="692.14" rx="1.4" ry="3.3" fill="#d6d6d6"/>
<ellipse cx="570.95" cy="701.21" rx="1.4" ry="3.3" fill="#d6d6d6"/>
<ellipse cx="570.95" cy="710.28" rx="1.4" ry="3.3" fill="#d6d6d6"/>
<ellipse cx="570.95" cy="719.35" rx="1.4" ry="3.3" fill="#d6d6d6"/>
<ellipse cx="570.95" cy="728.42" rx="1.4" ry="3.3" fill="#d6d6d6"/>
<ellipse cx="570.95" cy="737.49" rx="1.4" ry="3.3" fill="#d6d6d6"/>
<ellipse cx="570.95" cy="746.56" rx="1.4" ry="3.3" fill="#d6d6d6"/>
<ellipse cx="570.95" cy="755.63" rx="1.4" ry="3.3" fill="#d6d6d6"/>
<ellipse cx="570.95" cy="764.70" rx="1.4" ry="3.3" fill="#d6d6d6"/>
<ellipse cx="570.95" cy="773.77" rx="1.4" ry="3.3" fill="#d6d6d6"/>
<ellipse cx="570.95" cy="782.84" rx="1.4" ry="3.3" fill="#d6d6d6"/>
<ellipse cx="570.95" cy="791.91" rx="1.4" ry="3.3" fill="#d6d6d6"/>
<ellipse cx="570.95" cy="800.98" rx="1.4" ry="3.3" fill="#d6d6d6"/>
<ellipse cx="570.95" cy="810.05" rx="1.4" ry="3.3" fill="#d6d6d6"/>
<ellipse cx="570.95" cy="819.12" rx="1.4" ry="3.3" fill="#d6d6d6"/>
<ellipse cx="570.95" cy="837.26" rx="1.4" ry="3.3" fill="#d6d6d6"/>
<ellipse cx="570.95" cy="846.33" rx="1.4" ry="3.3" fill="#d6d6d6"/>
<ellipse cx="570.95" cy="828.19" rx="1.45" ry="3.4" fill="#000"/>
<ellipse cx="588.30" cy="683.07" rx="1.4" ry="3.3" fill="#d6d6d6"/>
<ellipse cx="588.30" cy="692.14" rx="1.4" ry="3.3" fill="#d6d6d6"/>
<ellipse cx="588.30" cy="701.21" rx="1.4" ry="3.3" fill="#d6d6d6"/>
<ellipse cx="588.30" cy="710.28" rx="1.4" ry="3.3" fill="#d6d6d6"/>
<ellipse cx="588.30" cy="719.35" rx="1.4" ry="3.3" fill="#d6d6d6"/>
<ellipse cx="588.30" cy="728.42" rx="1.4" ry="3.3" fill="#d6d6d6"/>
<ellipse cx="588.30" cy="737.49" rx="1.4" ry="3.3" fill="#d6d6d6"/>
<ellipse cx="588.30" cy="746.56" rx="1.4" ry="3.3" fill="#d6d6d6"/>
<ellipse cx="588.30" cy="755.63" rx="1.4" ry="3.3" fill="#d6d6d6"/>
<ellipse cx="588.30" cy="764.70" rx="1.4" ry="3.3" fill="#d6d6d6"/>
<ellipse cx="588.30" cy="773.77" rx="1.4" ry="3.3" fill="#d6d6d6"/>
<ellipse cx="588.30" cy="782.84" rx="1.4" ry="3.3" fill="#d6d6d6"/>
<ellipse cx="588.30" cy="791.91" rx="1.4" ry="3.3" fill="#d6d6d6"/>
<ellipse cx="588.30" cy="800.98" rx="1.4" ry="3.3" fill="#d6d6d6"/>
<ellipse cx="588.30" cy="810.05" rx="1.4" ry="3.3" fill="#d6d6d6"/>
<ellipse cx="588.30" cy="819.12" rx="1.4" ry="3.3" fill="#d6d6d6"/>
<ellipse cx="588.30" cy="828.19" rx="1.4" ry="3.3" fill="#d6d6d6"/>
<ellipse cx="588.30" cy="837.26" rx="1.4" ry="3.3" fill="#d6d6d6"/>
<ellipse cx="588.30" cy="846.33" rx="1.4" ry="3.3" fill="#d6d6d6"/>
<ellipse cx="588.30" cy="674.00" rx="1.45" ry="3.4" fill="#000"/>
<ellipse cx="605.65" cy="674.00" rx="1.4" ry="3.3" fill="#d6d6d6"/>
<ellipse cx="605.65" cy="692.14" rx="1.4" ry="3.3" fill="#d6d6d6"/>
<ellipse cx="605.65" cy="701.21" rx="1.4" ry="3.3" fill="#d6d6d6"/>
<ellipse cx="605.65" cy="710.28" rx="1.4" ry="3.3" fill="#d6d6d6"/>
<ellipse cx="605.65" cy="719.35" rx="1.4" ry="3.3" fill="#d6d6d6"/>
<ellipse cx="605.65" cy="728.42" rx="1.4" ry="3.3" fill="#d6d6d6"/>
<ellipse cx="605.65" cy="737.49" rx="1.4" ry="3.3" fill="#d6d6d6"/>
<ellipse cx="605.65" cy="746.56" rx="1.4" ry="3.3" fill="#d6d6d6"/>
<ellipse cx="605.65" cy="755.63" rx="1.4" ry="3.3" fill="#d6d6d6"/>
<ellipse cx="605.65" cy="764.70" rx="1.4" ry="3.3" fill="#d6d6d6"/>
<ellipse cx="605.65" cy="773.77" rx="1.4" ry="3.3" fill="#d6d6d6"/>
<ellipse cx="605.65" cy="782.84" rx="1.4" ry="3.3" fill="#d6d6d6"/>
<ellipse cx="605.65" cy="791.91" rx="1.4" ry="3.3" fill="#d6d6d6"/>
<ellipse cx="605.65" cy="800.98" rx="1.4" ry="3.3" fill="#d6d6d6"/>
<ellipse cx="605.65" cy="810.05" rx="1.4" ry="3.3" fill="#d6d6d6"/>
<ellipse cx="605.65" cy="819.12" rx="1.4" ry="3.3" fill="#d6d6d6"/>
<ellipse cx="605.65" cy="828.19" rx="1.4" ry="3.3" fill="#d6d6d6"/>
<ellipse cx="605.65" cy="837.26" rx="1.4" ry="3.3" fill="#d6d6d6"/>
<ellipse cx="605.65" cy="846.33" rx="1.4" ry="3.3" fill="#d6d6d6"/>
<ellipse cx="605.65" cy="683.07" rx="1.45" ry="3.4" fill="#000"/>
<ellipse cx="623.00" cy="828.19" rx="1.4" ry="3.3" fill="#d6d6d6"/>
<line x1="623.00" y1="674.00" x2="623.00" y2="846.33" stroke="#000" stroke-width="0.9" />
<ellipse cx="623.00" cy="674.00" rx="1.45" ry="3.4" fill="#000"/>
<ellipse cx="623.00" cy="683.07" rx="1.45" ry="3.4" fill="#000"/>
<ellipse cx="623.00" cy="692.14" rx="1.45" ry="3.4" fill="#000"/>
<ellipse cx="623.00" cy="701.21" rx="1.45" ry="3.4" fill="#000"/>
<ellipse cx="623.00" cy="710.28" rx="1.45" ry="3.4" fill="#000"/>
<ellipse cx="623.00" cy="719.35" rx="1.45" ry="3.4" fill="#000"/>
<ellipse cx="623.00" cy="728.42" rx="1.45" ry="3.4" fill="#000"/>
<ellipse cx="623.00" cy="737.49" rx="1.45" ry="3.4" fill="#000"/>
<ellipse cx="623.00" cy="746.56" rx="1.45" ry="3.4" fill="#000"/>
<ellipse cx="623.00" cy="755.63" rx="1.45" ry="3.4" fill="#000"/>
<ellipse cx="623.00" cy="764.70" rx="1.45" ry="3.4" fill="#000"/>
<ellipse cx="623.00" cy="773.77" rx="1.45" ry="3.4" fill="#000"/>
<ellipse cx="623.00" cy="782.84" rx="1.45" ry="3.4" fill="#000"/>
<ellipse cx="623.00" cy="791.91" rx="1.45" ry="3.4" fill="#000"/>
<ellipse cx="623.00" cy="800.98" rx="1.45" ry="3.4" fill="#000"/>
<ellipse cx="623.00" cy="810.05" rx="1.45" ry="3.4" fill="#000"/>
<ellipse cx="623.00" cy="819.12" rx="1.45" ry="3.4" fill="#000"/>
<ellipse cx="623.00" cy="837.26" rx="1.45" ry="3.4" fill="#000"/>
<ellipse cx="623.00" cy="846.33" rx="1.45" ry="3.4" fill="#000"/>
<ellipse cx="640.35" cy="846.33" rx="1.4" ry="3.3" fill="#d6d6d6"/>
<line x1="640.35" y1="674.00" x2="640.35" y2="837.26" stroke="#000" stroke-width="0.9" />
<ellipse cx="640.35" cy="674.00" rx="1.45" ry="3.4" fill="#000"/>
<ellipse cx="640.35" cy="683.07" rx="1.45" ry="3.4" fill="#000"/>
<ellipse cx="640.35" cy="692.14" rx="1.45" ry="3.4" fill="#000"/>
<ellipse cx="640.35" cy="701.21" rx="1.45" ry="3.4" fill="#000"/>
<ellipse cx="640.35" cy="710.28" rx="1.45" ry="3.4" fill="#000"/>
<ellipse cx="640.35" cy="719.35" rx="1.45" ry="3.4" fill="#000"/>
<ellipse cx="640.35" cy="728.42" rx="1.45" ry="3.4" fill="#000"/>
<ellipse cx="640.35" cy="737.49" rx="1.45" ry="3.4" fill="#000"/>
<ellipse cx="640.35" cy="746.56" rx="1.45" ry="3.4" fill="#000"/>
<ellipse cx="640.35" cy="755.63" rx="1.45" ry="3.4" fill="#000"/>
<ellipse cx="640.35" cy="764.70" rx="1.45" ry="3.4" fill="#000"/>
<ellipse cx="640.35" cy="773.77" rx="1.45" ry="3.4" fill="#000"/>
<ellipse cx="640.35" cy="782.84" rx="1.45" ry="3.4" fill="#000"/>
<ellipse cx="640.35" cy="791.91" rx="1.45" ry="3.4" fill="#000"/>
<ellipse cx="640.35" cy="800.98" rx="1.45" ry="3.4" fill="#000"/>
<ellipse cx="640.35" cy="810.05" rx="1.45" ry="3.4" fill="#000"/>
<ellipse cx="640.35" cy="819.12" rx="1.45" ry="3.4" fill="#000"/>
<ellipse cx="640.35" cy="828.19" rx="1.45" ry="3.4" fill="#000"/>
<ellipse cx="640.35" cy="837.26" rx="1.45" ry="3.4" fill="#000"/>
<ellipse cx="657.70" cy="674.00" rx="1.4" ry="3.3" fill="#d6d6d6"/>
<ellipse cx="657.70" cy="683.07" rx="1.4" ry="3.3" fill="#d6d6d6"/>
<ellipse cx="657.70" cy="701.21" rx="1.4" ry="3.3" fill="#d6d6d6"/>
<ellipse cx="657.70" cy="710.28" rx="1.4" ry="3.3" fill="#d6d6d6"/>
<ellipse cx="657.70" cy="719.35" rx="1.4" ry="3.3" fill="#d6d6d6"/>
<ellipse cx="657.70" cy="728.42" rx="1.4" ry="3.3" fill="#d6d6d6"/>
<ellipse cx="657.70" cy="737.49" rx="1.4" ry="3.3" fill="#d6d6d6"/>
<ellipse cx="657.70" cy="746.56" rx="1.4" ry="3.3" fill="#d6d6d6"/>
<ellipse cx="657.70" cy="755.63" rx="1.4" ry="3.3" fill="#d6d6d6"/>
<ellipse cx="657.70" cy="764.70" rx="1.4" ry="3.3" fill="#d6d6d6"/>
<ellipse cx="657.70" cy="773.77" rx="1.4" ry="3.3" fill="#d6d6d6"/>
<ellipse cx="657.70" cy="782.84" rx="1.4" ry="3.3" fill="#d6d6d6"/>
<ellipse cx="657.70" cy="791.91" rx="1.4" ry="3.3" fill="#d6d6d6"/>
<ellipse cx="657.70" cy="800.98" rx="1.4" ry="3.3" fill="#d6d6d6"/>
<ellipse cx="657.70" cy="810.05" rx="1.4" ry="3.3" fill="#d6d6d6"/>
<ellipse cx="657.70" cy="819.12" rx="1.4" ry="3.3" fill="#d6d6d6"/>
<ellipse cx="657.70" cy="828.19" rx="1.4" ry="3.3" fill="#d6d6d6"/>
<ellipse cx="657.70" cy="837.26" rx="1.4" ry="3.3" fill="#d6d6d6"/>
<ellipse cx="657.70" cy="846.33" rx="1.4" ry="3.3" fill="#d6d6d6"/>
<ellipse cx="657.70" cy="692.14" rx="1.45" ry="3.4" fill="#000"/>
<ellipse cx="675.05" cy="837.26" rx="1.4" ry="3.3" fill="#d6d6d6"/>
<line x1="675.05" y1="674.00" x2="675.05" y2="846.33" stroke="#000" stroke-width="0.9" />
<ellipse cx="675.05" cy="674.00" rx="1.45" ry="3.4" fill="#000"/>
<ellipse cx="675.05" cy="683.07" rx="1.45" ry="3.4" fill="#000"/>
<ellipse cx="675.05" cy="692.14" rx="1.45" ry="3.4" fill="#000"/>
<ellipse cx="675.05" cy="701.21" rx="1.45" ry="3.4" fill="#000"/>
<ellipse cx="675.05" cy="710.28" rx="1.45" ry="3.4" fill="#000"/>
<ellipse cx="675.05" cy="719.35" rx="1.45" ry="3.4" fill="#000"/>
<ellipse cx="675.05" cy="728.42" rx="1.45" ry="3.4" fill="#000"/>
<ellipse cx="675.05" cy="737.49" rx="1.45" ry="3.4" fill="#000"/>
<ellipse cx="675.05" cy="746.56" rx="1.45" ry="3.4" fill="#000"/>
<ellipse cx="675.05" cy="755.63" rx="1.45" ry="3.4" fill="#000"/>
<ellipse cx="675.05" cy="764.70" rx="1.45" ry="3.4" fill="#000"/>
<ellipse cx="675.05" cy="773.77" rx="1.45" ry="3.4" fill="#000"/>
<ellipse cx="675.05" cy="782.84" rx="1.45" ry="3.4" fill="#000"/>
<ellipse cx="675.05" cy="791.91" rx="1.45" ry="3.4" fill="#000"/>
<ellipse cx="675.05" cy="800.98" rx="1.45" ry="3.4" fill="#000"/>
<ellipse cx="675.05" cy="810.05" rx="1.45" ry="3.4" fill="#000"/>
<ellipse cx="675.05" cy="819.12" rx="1.45" ry="3.4" fill="#000"/>
<ellipse cx="675.05" cy="828.19" rx="1.45" ry="3.4" fill="#000"/>
<ellipse cx="675.05" cy="846.33" rx="1.45" ry="3.4" fill="#000"/>
</svg>
</body></html>
